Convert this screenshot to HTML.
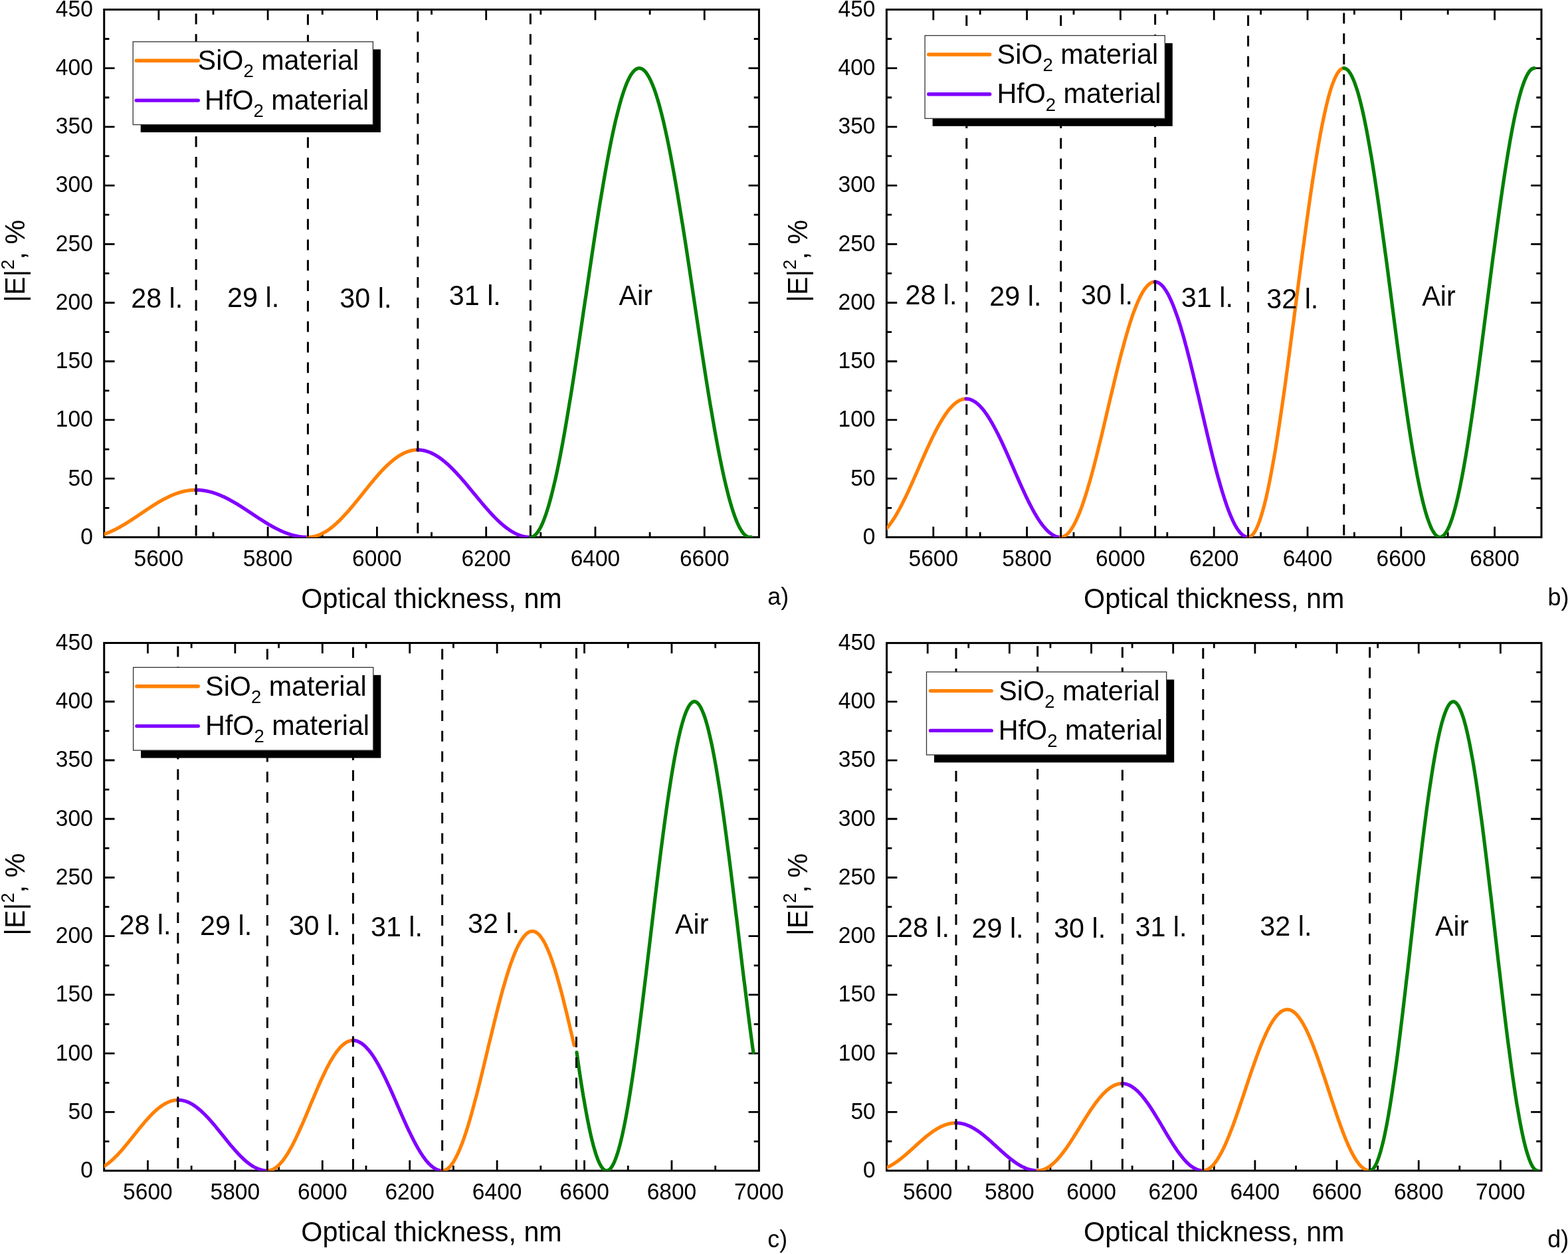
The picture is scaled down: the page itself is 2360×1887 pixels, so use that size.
<!DOCTYPE html>
<html><head><meta charset="utf-8"><title>|E|^2 distribution in multilayer</title>
<style>
html,body{margin:0;padding:0;background:#fff;}
body{width:2360px;height:1887px;overflow:hidden;}
svg{display:block;}
svg text{font-family:'Liberation Sans', Arial, sans-serif;fill:#000;}
</style></head>
<body>
<svg width="2360" height="1887" viewBox="0 0 2360 1887">
<rect width="2360" height="1887" fill="#fff"/>
<g id="plot-a">
<clipPath id="clip-a"><rect x="156.7" y="14.4" width="985.7" height="794"/></clipPath>
<path d="M238.84 808.4V792.6M238.84 14.4V30.2M320.98 808.4V800.7M320.98 14.4V22.1M403.12 808.4V792.6M403.12 14.4V30.2M485.27 808.4V800.7M485.27 14.4V22.1M567.41 808.4V792.6M567.41 14.4V30.2M649.55 808.4V800.7M649.55 14.4V22.1M731.69 808.4V792.6M731.69 14.4V30.2M813.83 808.4V800.7M813.83 14.4V22.1M895.97 808.4V792.6M895.97 14.4V30.2M978.12 808.4V800.7M978.12 14.4V22.1M1060.26 808.4V792.6M1060.26 14.4V30.2M156.7 764.29H164.4M1142.4 764.29H1134.7M156.7 720.18H172.5M1142.4 720.18H1126.6M156.7 676.07H164.4M1142.4 676.07H1134.7M156.7 631.96H172.5M1142.4 631.96H1126.6M156.7 587.84H164.4M1142.4 587.84H1134.7M156.7 543.73H172.5M1142.4 543.73H1126.6M156.7 499.62H164.4M1142.4 499.62H1134.7M156.7 455.51H172.5M1142.4 455.51H1126.6M156.7 411.4H164.4M1142.4 411.4H1134.7M156.7 367.29H172.5M1142.4 367.29H1126.6M156.7 323.18H164.4M1142.4 323.18H1134.7M156.7 279.07H172.5M1142.4 279.07H1126.6M156.7 234.96H164.4M1142.4 234.96H1134.7M156.7 190.84H172.5M1142.4 190.84H1126.6M156.7 146.73H164.4M1142.4 146.73H1134.7M156.7 102.62H172.5M1142.4 102.62H1126.6M156.7 58.51H164.4M1142.4 58.51H1134.7" stroke="#000" stroke-width="2.8" fill="none"/>
<rect x="156.7" y="14.4" width="985.7" height="794" fill="none" stroke="#000" stroke-width="3.0"/>
<g clip-path="url(#clip-a)" fill="none" stroke-width="5.2" stroke-linejoin="round" stroke-linecap="round">
<polyline stroke="#FF8000" points="156.7,803.8 157.7,803.4 158.7,803.1 159.7,802.7 160.7,802.4 161.7,802.0 162.7,801.6 163.7,801.2 164.7,800.8 165.7,800.3 166.7,799.9 167.7,799.5 168.7,799.0 169.7,798.5 170.7,798.1 171.7,797.6 172.7,797.1 173.7,796.6 174.7,796.1 175.7,795.6 176.7,795.1 177.7,794.5 178.7,794.0 179.7,793.4 180.7,792.9 181.7,792.3 182.7,791.7 183.7,791.2 184.7,790.6 185.7,790.0 186.7,789.4 187.7,788.8 188.7,788.2 189.7,787.6 190.7,787.0 191.7,786.3 192.7,785.7 193.7,785.1 194.7,784.4 195.7,783.8 196.7,783.2 197.7,782.5 198.7,781.9 199.7,781.2 200.7,780.5 201.7,779.9 202.7,779.2 203.7,778.5 204.7,777.9 205.7,777.2 206.7,776.5 207.7,775.9 208.7,775.2 209.7,774.5 210.7,773.8 211.7,773.2 212.7,772.5 213.7,771.8 214.7,771.1 215.7,770.4 216.7,769.8 217.7,769.1 218.7,768.4 219.7,767.8 220.7,767.1 221.7,766.4 222.7,765.8 223.7,765.1 224.7,764.4 225.7,763.8 226.7,763.1 227.7,762.5 228.7,761.8 229.7,761.2 230.7,760.6 231.7,759.9 232.7,759.3 233.7,758.7 234.7,758.1 235.7,757.4 236.7,756.8 237.7,756.2 238.7,755.6 239.7,755.1 240.7,754.5 241.7,753.9 242.7,753.3 243.8,752.8 244.8,752.2 245.8,751.7 246.8,751.1 247.8,750.6 248.8,750.1 249.8,749.6 250.8,749.0 251.8,748.5 252.8,748.1 253.8,747.6 254.8,747.1 255.8,746.6 256.8,746.2 257.8,745.7 258.8,745.3 259.8,744.9 260.8,744.5 261.8,744.1 262.8,743.7 263.8,743.3 264.8,742.9 265.8,742.6 266.8,742.2 267.8,741.9 268.8,741.6 269.8,741.2 270.8,740.9 271.8,740.6 272.8,740.4 273.8,740.1 274.8,739.8 275.8,739.6 276.8,739.4 277.8,739.1 278.8,738.9 279.8,738.7 280.8,738.5 281.8,738.4 282.8,738.2 283.8,738.1 284.8,737.9 285.8,737.8 286.8,737.7 287.8,737.6 288.8,737.5 289.8,737.5 290.8,737.4 291.8,737.4 292.8,737.3 293.8,737.3 294.8,737.3"/>
<polyline stroke="#8000FF" points="294.8,737.3 295.8,737.3 296.8,737.3 297.8,737.3 298.8,737.4 299.8,737.4 300.8,737.5 301.8,737.6 302.8,737.7 303.8,737.8 304.8,737.9 305.8,738.0 306.8,738.2 307.8,738.3 308.8,738.5 309.8,738.7 310.8,738.9 311.8,739.1 312.8,739.3 313.8,739.5 314.8,739.8 315.8,740.0 316.8,740.3 317.8,740.5 318.8,740.8 319.9,741.1 320.9,741.4 321.9,741.7 322.9,742.1 323.9,742.4 324.9,742.7 325.9,743.1 326.9,743.5 327.9,743.9 328.9,744.2 329.9,744.6 330.9,745.0 331.9,745.5 332.9,745.9 333.9,746.3 334.9,746.8 335.9,747.2 336.9,747.7 337.9,748.2 338.9,748.7 339.9,749.2 340.9,749.7 341.9,750.2 342.9,750.7 343.9,751.2 344.9,751.7 345.9,752.3 346.9,752.8 347.9,753.4 348.9,753.9 349.9,754.5 350.9,755.1 351.9,755.6 352.9,756.2 353.9,756.8 354.9,757.4 356.0,758.0 357.0,758.6 358.0,759.2 359.0,759.9 360.0,760.5 361.0,761.1 362.0,761.7 363.0,762.4 364.0,763.0 365.0,763.6 366.0,764.3 367.0,764.9 368.0,765.6 369.0,766.2 370.0,766.9 371.0,767.5 372.0,768.2 373.0,768.9 374.0,769.5 375.0,770.2 376.0,770.9 377.0,771.5 378.0,772.2 379.0,772.8 380.0,773.5 381.0,774.2 382.0,774.8 383.0,775.5 384.0,776.2 385.0,776.8 386.0,777.5 387.0,778.1 388.0,778.8 389.0,779.5 390.0,780.1 391.1,780.8 392.1,781.4 393.1,782.0 394.1,782.7 395.1,783.3 396.1,784.0 397.1,784.6 398.1,785.2 399.1,785.8 400.1,786.5 401.1,787.1 402.1,787.7 403.1,788.3 404.1,788.9 405.1,789.5 406.1,790.0 407.1,790.6 408.1,791.2 409.1,791.8 410.1,792.3 411.1,792.9 412.1,793.4 413.1,794.0 414.1,794.5 415.1,795.0 416.1,795.5 417.1,796.0 418.1,796.5 419.1,797.0 420.1,797.5 421.1,798.0 422.1,798.5 423.1,798.9 424.1,799.4 425.1,799.8 426.1,800.2 427.2,800.6 428.2,801.1 429.2,801.5 430.2,801.8 431.2,802.2 432.2,802.6 433.2,803.0 434.2,803.3 435.2,803.6 436.2,804.0 437.2,804.3 438.2,804.6 439.2,804.9 440.2,805.2 441.2,805.4 442.2,805.7 443.2,805.9 444.2,806.2 445.2,806.4 446.2,806.6 447.2,806.8 448.2,807.0 449.2,807.2 450.2,807.4 451.2,807.5 452.2,807.7 453.2,807.8 454.2,807.9 455.2,808.0 456.2,808.1 457.2,808.2 458.2,808.2 459.2,808.3 460.2,808.3 461.2,808.4 462.2,808.4 463.3,808.4"/>
<polyline stroke="#FF8000" points="463.3,808.4 464.3,808.4 465.3,808.4 466.3,808.3 467.3,808.2 468.3,808.1 469.3,808.0 470.3,807.8 471.3,807.6 472.3,807.4 473.3,807.2 474.3,807.0 475.3,806.7 476.3,806.4 477.3,806.1 478.3,805.7 479.3,805.4 480.3,805.0 481.3,804.6 482.3,804.1 483.3,803.7 484.3,803.2 485.3,802.7 486.3,802.2 487.3,801.7 488.3,801.1 489.3,800.5 490.3,799.9 491.3,799.3 492.3,798.6 493.3,798.0 494.3,797.3 495.3,796.6 496.3,795.8 497.3,795.1 498.3,794.3 499.3,793.6 500.3,792.8 501.3,791.9 502.3,791.1 503.3,790.2 504.3,789.4 505.3,788.5 506.3,787.6 507.3,786.7 508.3,785.7 509.3,784.8 510.3,783.8 511.3,782.8 512.3,781.8 513.3,780.8 514.3,779.8 515.3,778.7 516.3,777.7 517.3,776.6 518.3,775.5 519.3,774.4 520.3,773.3 521.3,772.2 522.3,771.1 523.4,770.0 524.4,768.8 525.4,767.7 526.4,766.5 527.4,765.3 528.4,764.2 529.4,763.0 530.4,761.8 531.4,760.6 532.4,759.4 533.4,758.2 534.4,757.0 535.4,755.7 536.4,754.5 537.4,753.3 538.4,752.0 539.4,750.8 540.4,749.5 541.4,748.3 542.4,747.1 543.4,745.8 544.4,744.6 545.4,743.3 546.4,742.0 547.4,740.8 548.4,739.5 549.4,738.3 550.4,737.0 551.4,735.8 552.4,734.6 553.4,733.3 554.4,732.1 555.4,730.9 556.4,729.6 557.4,728.4 558.4,727.2 559.4,726.0 560.4,724.8 561.4,723.6 562.4,722.4 563.4,721.2 564.4,720.0 565.4,718.8 566.4,717.7 567.4,716.5 568.4,715.4 569.4,714.2 570.4,713.1 571.4,712.0 572.4,710.9 573.4,709.8 574.4,708.7 575.4,707.7 576.4,706.6 577.4,705.6 578.4,704.5 579.4,703.5 580.4,702.5 581.4,701.6 582.4,700.6 583.4,699.6 584.4,698.7 585.5,697.8 586.5,696.9 587.5,696.0 588.5,695.1 589.5,694.3 590.5,693.4 591.5,692.6 592.5,691.8 593.5,691.0 594.5,690.2 595.5,689.5 596.5,688.8 597.5,688.1 598.5,687.4 599.5,686.7 600.5,686.1 601.5,685.4 602.5,684.8 603.5,684.3 604.5,683.7 605.5,683.2 606.5,682.6 607.5,682.1 608.5,681.7 609.5,681.2 610.5,680.8 611.5,680.4 612.5,680.0 613.5,679.6 614.5,679.3 615.5,679.0 616.5,678.7 617.5,678.4 618.5,678.1 619.5,677.9 620.5,677.7 621.5,677.5 622.5,677.4 623.5,677.2 624.5,677.1 625.5,677.1 626.5,677.0 627.5,677.0 628.5,676.9"/>
<polyline stroke="#8000FF" points="628.5,676.9 629.5,677.0 630.5,677.0 631.5,677.1 632.5,677.1 633.5,677.2 634.6,677.4 635.6,677.5 636.6,677.7 637.6,677.9 638.6,678.1 639.6,678.3 640.6,678.6 641.6,678.9 642.6,679.2 643.6,679.5 644.6,679.8 645.6,680.2 646.6,680.6 647.6,681.0 648.6,681.4 649.6,681.9 650.6,682.4 651.6,682.9 652.6,683.4 653.7,683.9 654.7,684.5 655.7,685.1 656.7,685.7 657.7,686.3 658.7,686.9 659.7,687.6 660.7,688.2 661.7,688.9 662.7,689.6 663.7,690.4 664.7,691.1 665.7,691.9 666.7,692.7 667.7,693.5 668.7,694.3 669.7,695.1 670.7,696.0 671.7,696.9 672.7,697.7 673.8,698.6 674.8,699.5 675.8,700.5 676.8,701.4 677.8,702.4 678.8,703.4 679.8,704.3 680.8,705.3 681.8,706.3 682.8,707.4 683.8,708.4 684.8,709.5 685.8,710.5 686.8,711.6 687.8,712.7 688.8,713.8 689.8,714.9 690.8,716.0 691.8,717.1 692.9,718.2 693.9,719.4 694.9,720.5 695.9,721.7 696.9,722.8 697.9,724.0 698.9,725.2 699.9,726.4 700.9,727.5 701.9,728.7 702.9,729.9 703.9,731.1 704.9,732.3 705.9,733.5 706.9,734.8 707.9,736.0 708.9,737.2 709.9,738.4 710.9,739.6 711.9,740.8 713.0,742.1 714.0,743.3 715.0,744.5 716.0,745.7 717.0,746.9 718.0,748.2 719.0,749.4 720.0,750.6 721.0,751.8 722.0,753.0 723.0,754.2 724.0,755.4 725.0,756.6 726.0,757.8 727.0,759.0 728.0,760.2 729.0,761.4 730.0,762.5 731.0,763.7 732.1,764.8 733.1,766.0 734.1,767.1 735.1,768.2 736.1,769.4 737.1,770.5 738.1,771.6 739.1,772.7 740.1,773.8 741.1,774.8 742.1,775.9 743.1,776.9 744.1,778.0 745.1,779.0 746.1,780.0 747.1,781.0 748.1,782.0 749.1,783.0 750.1,783.9 751.1,784.9 752.2,785.8 753.2,786.7 754.2,787.6 755.2,788.5 756.2,789.4 757.2,790.2 758.2,791.1 759.2,791.9 760.2,792.7 761.2,793.5 762.2,794.2 763.2,795.0 764.2,795.7 765.2,796.4 766.2,797.1 767.2,797.8 768.2,798.4 769.2,799.1 770.2,799.7 771.3,800.3 772.3,800.9 773.3,801.4 774.3,802.0 775.3,802.5 776.3,803.0 777.3,803.5 778.3,803.9 779.3,804.3 780.3,804.8 781.3,805.1 782.3,805.5 783.3,805.9 784.3,806.2 785.3,806.5 786.3,806.8 787.3,807.0 788.3,807.3 789.3,807.5 790.3,807.7 791.4,807.8 792.4,808.0 793.4,808.1 794.4,808.2 795.4,808.3 796.4,808.4 797.4,808.4 798.4,808.4"/>
<polyline stroke="#008000" points="798.4,808.4 799.4,808.3 800.4,808.1 801.4,807.8 802.4,807.4 803.4,806.8 804.4,806.0 805.4,805.2 806.4,804.2 807.4,803.1 808.4,801.9 809.4,800.5 810.4,799.0 811.4,797.4 812.5,795.6 813.5,793.8 814.5,791.8 815.5,789.6 816.5,787.4 817.5,785.0 818.5,782.5 819.5,779.9 820.5,777.1 821.5,774.3 822.5,771.3 823.5,768.2 824.5,765.0 825.5,761.7 826.5,758.2 827.5,754.7 828.5,751.0 829.5,747.3 830.5,743.4 831.5,739.4 832.5,735.3 833.5,731.1 834.5,726.8 835.6,722.4 836.6,717.9 837.6,713.3 838.6,708.6 839.6,703.8 840.6,699.0 841.6,694.0 842.6,688.9 843.6,683.8 844.6,678.6 845.6,673.2 846.6,667.9 847.6,662.4 848.6,656.8 849.6,651.2 850.6,645.5 851.6,639.8 852.6,633.9 853.6,628.0 854.6,622.0 855.6,616.0 856.6,609.9 857.6,603.8 858.7,597.6 859.7,591.3 860.7,585.0 861.7,578.7 862.7,572.3 863.7,565.9 864.7,559.4 865.7,552.9 866.7,546.3 867.7,539.7 868.7,533.1 869.7,526.4 870.7,519.8 871.7,513.1 872.7,506.3 873.7,499.6 874.7,492.8 875.7,486.1 876.7,479.3 877.7,472.5 878.7,465.7 879.7,458.9 880.7,452.1 881.8,445.3 882.8,438.5 883.8,431.7 884.8,424.9 885.8,418.2 886.8,411.4 887.8,404.7 888.8,398.0 889.8,391.3 890.8,384.6 891.8,377.9 892.8,371.3 893.8,364.7 894.8,358.2 895.8,351.7 896.8,345.2 897.8,338.7 898.8,332.3 899.8,326.0 900.8,319.7 901.8,313.4 902.8,307.2 903.8,301.1 904.9,295.0 905.9,289.0 906.9,283.0 907.9,277.1 908.9,271.3 909.9,265.5 910.9,259.8 911.9,254.2 912.9,248.6 913.9,243.2 914.9,237.8 915.9,232.5 916.9,227.2 917.9,222.1 918.9,217.0 919.9,212.1 920.9,207.2 921.9,202.4 922.9,197.7 923.9,193.1 924.9,188.6 925.9,184.2 926.9,179.9 928.0,175.7 929.0,171.6 930.0,167.6 931.0,163.8 932.0,160.0 933.0,156.3 934.0,152.8 935.0,149.3 936.0,146.0 937.0,142.8 938.0,139.7 939.0,136.7 940.0,133.9 941.0,131.1 942.0,128.5 943.0,126.0 944.0,123.6 945.0,121.4 946.0,119.3 947.0,117.3 948.0,115.4 949.0,113.6 950.0,112.0 951.1,110.5 952.1,109.2 953.1,107.9 954.1,106.8 955.1,105.8 956.1,105.0 957.1,104.3 958.1,103.7 959.1,103.2 960.1,102.9 961.1,102.7 962.1,102.6 963.1,102.7 964.1,102.9 965.1,103.2 966.1,103.6 967.1,104.2 968.1,104.9 969.1,105.7 970.1,106.7 971.1,107.7 972.1,108.9 973.1,110.2 974.1,111.7 975.1,113.3 976.1,114.9 977.1,116.8 978.1,118.7 979.1,120.7 980.1,122.9 981.1,125.2 982.1,127.6 983.1,130.1 984.2,132.8 985.2,135.5 986.2,138.4 987.2,141.4 988.2,144.5 989.2,147.7 990.2,151.0 991.2,154.5 992.2,158.0 993.2,161.7 994.2,165.4 995.2,169.3 996.2,173.2 997.2,177.3 998.2,181.4 999.2,185.7 1000.2,190.1 1001.2,194.5 1002.2,199.1 1003.2,203.7 1004.2,208.4 1005.2,213.2 1006.2,218.1 1007.2,223.1 1008.2,228.2 1009.2,233.3 1010.2,238.6 1011.2,243.9 1012.2,249.2 1013.2,254.7 1014.2,260.2 1015.2,265.8 1016.2,271.5 1017.2,277.2 1018.2,283.0 1019.2,288.9 1020.2,294.8 1021.2,300.8 1022.2,306.8 1023.2,312.9 1024.2,319.0 1025.2,325.2 1026.2,331.5 1027.3,337.7 1028.3,344.0 1029.3,350.4 1030.3,356.8 1031.3,363.2 1032.3,369.7 1033.3,376.2 1034.3,382.7 1035.3,389.3 1036.3,395.8 1037.3,402.4 1038.3,409.0 1039.3,415.7 1040.3,422.3 1041.3,429.0 1042.3,435.6 1043.3,442.3 1044.3,449.0 1045.3,455.7 1046.3,462.4 1047.3,469.0 1048.3,475.7 1049.3,482.4 1050.3,489.0 1051.3,495.7 1052.3,502.3 1053.3,508.9 1054.3,515.5 1055.3,522.1 1056.3,528.6 1057.3,535.1 1058.3,541.6 1059.3,548.1 1060.3,554.5 1061.3,560.9 1062.3,567.3 1063.3,573.6 1064.3,579.9 1065.3,586.1 1066.3,592.3 1067.3,598.4 1068.3,604.5 1069.3,610.5 1070.4,616.5 1071.4,622.4 1072.4,628.3 1073.4,634.1 1074.4,639.8 1075.4,645.5 1076.4,651.1 1077.4,656.6 1078.4,662.0 1079.4,667.4 1080.4,672.7 1081.4,677.9 1082.4,683.1 1083.4,688.2 1084.4,693.1 1085.4,698.0 1086.4,702.8 1087.4,707.6 1088.4,712.2 1089.4,716.7 1090.4,721.2 1091.4,725.5 1092.4,729.8 1093.4,733.9 1094.4,738.0 1095.4,741.9 1096.4,745.8 1097.4,749.5 1098.4,753.2 1099.4,756.7 1100.4,760.1 1101.4,763.5 1102.4,766.7 1103.4,769.8 1104.4,772.7 1105.4,775.6 1106.4,778.4 1107.4,781.0 1108.4,783.5 1109.4,785.9 1110.4,788.2 1111.4,790.4 1112.4,792.4 1113.4,794.4 1114.5,796.2 1115.5,797.8 1116.5,799.4 1117.5,800.8 1118.5,802.2 1119.5,803.3 1120.5,804.4 1121.5,805.3 1122.5,806.2 1123.5,806.9 1124.5,807.4 1125.5,807.8 1126.5,808.2 1127.5,808.3 1128.5,808.4 1129.5,808.3 1130.5,808.1"/>
</g>
<path d="M295.11 -10.4V808.4M463.42 -9.2V808.4M628.85 -14.2V808.4M798.39 -10.4V808.4" stroke="#000" stroke-width="3" stroke-dasharray="16 14.8" fill="none" clip-path="url(#clip-a)"/>
<rect x="211.7" y="74.3" width="361.2" height="124.8" fill="#000"/>
<rect x="200.2" y="62.8" width="361.2" height="124.8" fill="#fff" stroke="#333" stroke-width="1.3"/>
<path d="M205.1 91.3H298.3" stroke="#FF8000" stroke-width="5.4" stroke-linecap="round"/>
<path d="M205.1 151.1H298.3" stroke="#8000FF" stroke-width="5.4" stroke-linecap="round"/>
<text transform="translate(297.6 105.2) scale(1 1.02)" font-size="41.3">SiO<tspan font-size="27.5" dy="11">2</tspan><tspan dy="-11"> material</tspan></text>
<text transform="translate(308.1 164.7) scale(1 1.02)" font-size="41.3">HfO<tspan font-size="27.5" dy="11">2</tspan><tspan dy="-11"> material</tspan></text>
<text transform="translate(139.8 818.8) scale(1.01 1.03)" font-size="33.2" text-anchor="end">0</text>
<text transform="translate(139.8 730.58) scale(1.01 1.03)" font-size="33.2" text-anchor="end">50</text>
<text transform="translate(139.8 642.36) scale(1.01 1.03)" font-size="33.2" text-anchor="end">100</text>
<text transform="translate(139.8 554.13) scale(1.01 1.03)" font-size="33.2" text-anchor="end">150</text>
<text transform="translate(139.8 465.91) scale(1.01 1.03)" font-size="33.2" text-anchor="end">200</text>
<text transform="translate(139.8 377.69) scale(1.01 1.03)" font-size="33.2" text-anchor="end">250</text>
<text transform="translate(139.8 289.47) scale(1.01 1.03)" font-size="33.2" text-anchor="end">300</text>
<text transform="translate(139.8 201.24) scale(1.01 1.03)" font-size="33.2" text-anchor="end">350</text>
<text transform="translate(139.8 113.02) scale(1.01 1.03)" font-size="33.2" text-anchor="end">400</text>
<text transform="translate(139.8 24.8) scale(1.01 1.03)" font-size="33.2" text-anchor="end">450</text>
<text transform="translate(238.84 851.5) scale(1.01 1.03)" font-size="33.2" text-anchor="middle">5600</text>
<text transform="translate(403.12 851.5) scale(1.01 1.03)" font-size="33.2" text-anchor="middle">5800</text>
<text transform="translate(567.41 851.5) scale(1.01 1.03)" font-size="33.2" text-anchor="middle">6000</text>
<text transform="translate(731.69 851.5) scale(1.01 1.03)" font-size="33.2" text-anchor="middle">6200</text>
<text transform="translate(895.97 851.5) scale(1.01 1.03)" font-size="33.2" text-anchor="middle">6400</text>
<text transform="translate(1060.26 851.5) scale(1.01 1.03)" font-size="33.2" text-anchor="middle">6600</text>
<text transform="translate(649.55 914.5) scale(1 1.02)" font-size="41.3" text-anchor="middle">Optical thickness, nm</text>
<text transform="translate(37.3 454.7) rotate(-90) scale(1 1.02)" x="0" y="0" font-size="41.3">|E|<tspan font-size="27.5" dy="-16.4">2</tspan><tspan dy="16.4">, %</tspan></text>
<text transform="translate(197.22 462.6) scale(1 1.02)" font-size="41.3">28 l.</text>
<text transform="translate(342.12 461.8) scale(1 1.02)" font-size="41.3">29 l.</text>
<text transform="translate(511.33 462.6) scale(1 1.02)" font-size="41.3">30 l.</text>
<text transform="translate(675.73 458.7) scale(1 1.02)" font-size="41.3">31 l.</text>
<text transform="translate(931.52 458.7) scale(1 1.02)" font-size="41.3">Air</text>
<text transform="translate(1155.3 910.4) scale(0.95 1)" font-size="37.8">a)</text>
</g>
<g id="plot-b">
<clipPath id="clip-b"><rect x="1334.4" y="14.4" width="985.6" height="794"/></clipPath>
<path d="M1404.8 808.4V792.6M1404.8 14.4V30.2M1475.2 808.4V800.7M1475.2 14.4V22.1M1545.6 808.4V792.6M1545.6 14.4V30.2M1616 808.4V800.7M1616 14.4V22.1M1686.4 808.4V792.6M1686.4 14.4V30.2M1756.8 808.4V800.7M1756.8 14.4V22.1M1827.2 808.4V792.6M1827.2 14.4V30.2M1897.6 808.4V800.7M1897.6 14.4V22.1M1968 808.4V792.6M1968 14.4V30.2M2038.4 808.4V800.7M2038.4 14.4V22.1M2108.8 808.4V792.6M2108.8 14.4V30.2M2179.2 808.4V800.7M2179.2 14.4V22.1M2249.6 808.4V792.6M2249.6 14.4V30.2M1334.4 764.29H1342.1M2320 764.29H2312.3M1334.4 720.18H1350.2M2320 720.18H2304.2M1334.4 676.07H1342.1M2320 676.07H2312.3M1334.4 631.96H1350.2M2320 631.96H2304.2M1334.4 587.84H1342.1M2320 587.84H2312.3M1334.4 543.73H1350.2M2320 543.73H2304.2M1334.4 499.62H1342.1M2320 499.62H2312.3M1334.4 455.51H1350.2M2320 455.51H2304.2M1334.4 411.4H1342.1M2320 411.4H2312.3M1334.4 367.29H1350.2M2320 367.29H2304.2M1334.4 323.18H1342.1M2320 323.18H2312.3M1334.4 279.07H1350.2M2320 279.07H2304.2M1334.4 234.96H1342.1M2320 234.96H2312.3M1334.4 190.84H1350.2M2320 190.84H2304.2M1334.4 146.73H1342.1M2320 146.73H2312.3M1334.4 102.62H1350.2M2320 102.62H2304.2M1334.4 58.51H1342.1M2320 58.51H2312.3" stroke="#000" stroke-width="2.8" fill="none"/>
<rect x="1334.4" y="14.4" width="985.6" height="794" fill="none" stroke="#000" stroke-width="3.0"/>
<g clip-path="url(#clip-b)" fill="none" stroke-width="5.2" stroke-linejoin="round" stroke-linecap="round">
<polyline stroke="#FF8000" points="1334.4,795.1 1335.4,794.0 1336.4,792.8 1337.4,791.5 1338.4,790.3 1339.4,788.9 1340.4,787.6 1341.4,786.2 1342.4,784.7 1343.5,783.3 1344.5,781.7 1345.5,780.2 1346.5,778.6 1347.5,777.0 1348.5,775.3 1349.5,773.6 1350.5,771.9 1351.5,770.1 1352.5,768.3 1353.5,766.5 1354.5,764.6 1355.5,762.7 1356.5,760.8 1357.5,758.9 1358.5,756.9 1359.5,754.9 1360.5,752.9 1361.6,750.8 1362.6,748.7 1363.6,746.6 1364.6,744.5 1365.6,742.4 1366.6,740.3 1367.6,738.1 1368.6,735.9 1369.6,733.7 1370.6,731.5 1371.6,729.3 1372.6,727.0 1373.6,724.8 1374.6,722.5 1375.6,720.2 1376.6,718.0 1377.6,715.7 1378.7,713.4 1379.7,711.1 1380.7,708.8 1381.7,706.5 1382.7,704.2 1383.7,701.9 1384.7,699.6 1385.7,697.3 1386.7,695.0 1387.7,692.7 1388.7,690.4 1389.7,688.1 1390.7,685.9 1391.7,683.6 1392.7,681.4 1393.7,679.1 1394.7,676.9 1395.7,674.7 1396.8,672.5 1397.8,670.3 1398.8,668.1 1399.8,666.0 1400.8,663.8 1401.8,661.7 1402.8,659.6 1403.8,657.6 1404.8,655.5 1405.8,653.5 1406.8,651.5 1407.8,649.5 1408.8,647.6 1409.8,645.7 1410.8,643.8 1411.8,641.9 1412.8,640.1 1413.9,638.3 1414.9,636.6 1415.9,634.8 1416.9,633.1 1417.9,631.5 1418.9,629.8 1419.9,628.2 1420.9,626.7 1421.9,625.2 1422.9,623.7 1423.9,622.3 1424.9,620.9 1425.9,619.5 1426.9,618.2 1427.9,616.9 1428.9,615.7 1429.9,614.5 1430.9,613.4 1432.0,612.3 1433.0,611.2 1434.0,610.2 1435.0,609.2 1436.0,608.3 1437.0,607.5 1438.0,606.6 1439.0,605.9 1440.0,605.1 1441.0,604.5 1442.0,603.8 1443.0,603.3 1444.0,602.7 1445.0,602.2 1446.0,601.8 1447.0,601.4 1448.0,601.1 1449.1,600.8 1450.1,600.6 1451.1,600.4 1452.1,600.3 1453.1,600.2 1454.1,600.2"/>
<polyline stroke="#8000FF" points="1454.1,600.2 1455.1,600.2 1456.1,600.3 1457.1,600.4 1458.1,600.6 1459.1,600.8 1460.1,601.1 1461.1,601.4 1462.1,601.8 1463.1,602.3 1464.1,602.7 1465.1,603.3 1466.1,603.8 1467.1,604.5 1468.1,605.1 1469.1,605.9 1470.1,606.6 1471.1,607.5 1472.1,608.3 1473.1,609.3 1474.1,610.2 1475.1,611.2 1476.1,612.3 1477.1,613.4 1478.1,614.5 1479.1,615.7 1480.1,616.9 1481.1,618.2 1482.1,619.5 1483.1,620.9 1484.1,622.3 1485.1,623.7 1486.1,625.2 1487.1,626.7 1488.1,628.3 1489.1,629.9 1490.1,631.5 1491.1,633.2 1492.1,634.9 1493.1,636.6 1494.1,638.4 1495.1,640.2 1496.1,642.0 1497.1,643.9 1498.1,645.7 1499.1,647.7 1500.1,649.6 1501.1,651.6 1502.2,653.6 1503.2,655.6 1504.2,657.7 1505.2,659.7 1506.2,661.8 1507.2,663.9 1508.2,666.1 1509.2,668.2 1510.2,670.4 1511.2,672.6 1512.2,674.8 1513.2,677.0 1514.2,679.2 1515.2,681.5 1516.2,683.7 1517.2,686.0 1518.2,688.2 1519.2,690.5 1520.2,692.8 1521.2,695.1 1522.2,697.4 1523.2,699.7 1524.2,702.0 1525.2,704.3 1526.2,706.6 1527.2,708.9 1528.2,711.2 1529.2,713.5 1530.2,715.8 1531.2,718.1 1532.2,720.4 1533.2,722.6 1534.2,724.9 1535.2,727.1 1536.2,729.4 1537.2,731.6 1538.2,733.8 1539.2,736.0 1540.2,738.2 1541.2,740.4 1542.2,742.5 1543.2,744.7 1544.2,746.8 1545.2,748.9 1546.2,750.9 1547.2,753.0 1548.2,755.0 1549.2,757.0 1550.2,759.0 1551.2,760.9 1552.2,762.8 1553.2,764.7 1554.2,766.6 1555.2,768.4 1556.2,770.2 1557.2,772.0 1558.2,773.7 1559.2,775.4 1560.2,777.1 1561.2,778.7 1562.2,780.3 1563.2,781.9 1564.2,783.4 1565.2,784.9 1566.2,786.3 1567.2,787.7 1568.2,789.1 1569.2,790.4 1570.2,791.6 1571.3,792.9 1572.3,794.1 1573.3,795.2 1574.3,796.3 1575.3,797.4 1576.3,798.4 1577.3,799.3 1578.3,800.3 1579.3,801.1 1580.3,801.9 1581.3,802.7 1582.3,803.4 1583.3,804.1 1584.3,804.8 1585.3,805.3 1586.3,805.9 1587.3,806.3 1588.3,806.8 1589.3,807.2 1590.3,807.5 1591.3,807.8 1592.3,808.0 1593.3,808.2 1594.3,808.3 1595.3,808.4 1596.3,808.4"/>
<polyline stroke="#FF8000" points="1596.3,808.4 1597.3,808.4 1598.3,808.2 1599.3,808.0 1600.3,807.6 1601.3,807.2 1602.3,806.7 1603.3,806.1 1604.3,805.4 1605.3,804.5 1606.3,803.7 1607.4,802.7 1608.4,801.6 1609.4,800.4 1610.4,799.1 1611.4,797.8 1612.4,796.3 1613.4,794.8 1614.4,793.2 1615.4,791.4 1616.4,789.6 1617.4,787.7 1618.4,785.8 1619.4,783.7 1620.4,781.6 1621.4,779.4 1622.4,777.1 1623.5,774.7 1624.5,772.2 1625.5,769.7 1626.5,767.0 1627.5,764.4 1628.5,761.6 1629.5,758.8 1630.5,755.9 1631.5,752.9 1632.5,749.8 1633.5,746.7 1634.5,743.5 1635.5,740.3 1636.5,737.0 1637.5,733.6 1638.5,730.2 1639.5,726.8 1640.6,723.2 1641.6,719.6 1642.6,716.0 1643.6,712.3 1644.6,708.6 1645.6,704.8 1646.6,701.0 1647.6,697.1 1648.6,693.2 1649.6,689.3 1650.6,685.3 1651.6,681.3 1652.6,677.3 1653.6,673.2 1654.6,669.1 1655.6,664.9 1656.7,660.8 1657.7,656.6 1658.7,652.4 1659.7,648.2 1660.7,644.0 1661.7,639.7 1662.7,635.5 1663.7,631.2 1664.7,626.9 1665.7,622.7 1666.7,618.4 1667.7,614.1 1668.7,609.8 1669.7,605.6 1670.7,601.3 1671.7,597.0 1672.7,592.8 1673.8,588.5 1674.8,584.3 1675.8,580.1 1676.8,575.9 1677.8,571.7 1678.8,567.6 1679.8,563.4 1680.8,559.3 1681.8,555.2 1682.8,551.2 1683.8,547.2 1684.8,543.2 1685.8,539.3 1686.8,535.4 1687.8,531.5 1688.8,527.7 1689.9,523.9 1690.9,520.2 1691.9,516.5 1692.9,512.9 1693.9,509.3 1694.9,505.7 1695.9,502.3 1696.9,498.9 1697.9,495.5 1698.9,492.2 1699.9,489.0 1700.9,485.8 1701.9,482.7 1702.9,479.6 1703.9,476.7 1704.9,473.7 1705.9,470.9 1707.0,468.1 1708.0,465.5 1709.0,462.8 1710.0,460.3 1711.0,457.8 1712.0,455.5 1713.0,453.2 1714.0,450.9 1715.0,448.8 1716.0,446.7 1717.0,444.8 1718.0,442.9 1719.0,441.1 1720.0,439.4 1721.0,437.7 1722.0,436.2 1723.1,434.7 1724.1,433.4 1725.1,432.1 1726.1,430.9 1727.1,429.8 1728.1,428.9 1729.1,428.0 1730.1,427.1 1731.1,426.4 1732.1,425.8 1733.1,425.3 1734.1,424.9 1735.1,424.5 1736.1,424.3 1737.1,424.2 1738.1,424.1"/>
<polyline stroke="#8000FF" points="1738.1,424.1 1739.1,424.2 1740.2,424.3 1741.2,424.5 1742.2,424.9 1743.2,425.3 1744.2,425.8 1745.2,426.5 1746.2,427.2 1747.2,428.0 1748.2,428.9 1749.2,429.9 1750.2,431.0 1751.2,432.2 1752.2,433.5 1753.2,434.9 1754.2,436.4 1755.2,437.9 1756.2,439.6 1757.2,441.3 1758.2,443.1 1759.2,445.0 1760.2,447.0 1761.2,449.1 1762.2,451.3 1763.2,453.6 1764.2,455.9 1765.2,458.3 1766.2,460.8 1767.2,463.4 1768.2,466.0 1769.2,468.8 1770.2,471.6 1771.2,474.4 1772.3,477.4 1773.3,480.4 1774.3,483.5 1775.3,486.6 1776.3,489.8 1777.3,493.1 1778.3,496.4 1779.3,499.9 1780.3,503.3 1781.3,506.8 1782.3,510.4 1783.3,514.0 1784.3,517.7 1785.3,521.4 1786.3,525.2 1787.3,529.0 1788.3,532.9 1789.3,536.8 1790.3,540.7 1791.3,544.7 1792.3,548.7 1793.3,552.8 1794.3,556.9 1795.3,561.0 1796.3,565.1 1797.3,569.3 1798.3,573.5 1799.3,577.7 1800.3,581.9 1801.3,586.2 1802.3,590.5 1803.4,594.7 1804.4,599.0 1805.4,603.3 1806.4,607.6 1807.4,611.9 1808.4,616.3 1809.4,620.6 1810.4,624.9 1811.4,629.2 1812.4,633.5 1813.4,637.8 1814.4,642.0 1815.4,646.3 1816.4,650.6 1817.4,654.8 1818.4,659.0 1819.4,663.2 1820.4,667.4 1821.4,671.5 1822.4,675.6 1823.4,679.7 1824.4,683.8 1825.4,687.8 1826.4,691.8 1827.4,695.7 1828.4,699.6 1829.4,703.5 1830.4,707.3 1831.4,711.1 1832.4,714.8 1833.4,718.5 1834.5,722.1 1835.5,725.7 1836.5,729.2 1837.5,732.7 1838.5,736.1 1839.5,739.4 1840.5,742.7 1841.5,745.9 1842.5,749.0 1843.5,752.1 1844.5,755.1 1845.5,758.1 1846.5,761.0 1847.5,763.8 1848.5,766.5 1849.5,769.1 1850.5,771.7 1851.5,774.2 1852.5,776.6 1853.5,778.9 1854.5,781.2 1855.5,783.4 1856.5,785.5 1857.5,787.5 1858.5,789.4 1859.5,791.2 1860.5,792.9 1861.5,794.6 1862.5,796.1 1863.5,797.6 1864.5,799.0 1865.6,800.3 1866.6,801.5 1867.6,802.6 1868.6,803.6 1869.6,804.5 1870.6,805.3 1871.6,806.0 1872.6,806.7 1873.6,807.2 1874.6,807.6 1875.6,808.0 1876.6,808.2 1877.6,808.4 1878.6,808.4"/>
<polyline stroke="#FF8000" points="1878.6,808.4 1879.6,808.3 1880.6,808.1 1881.6,807.6 1882.6,807.0 1883.6,806.3 1884.6,805.3 1885.6,804.2 1886.6,803.0 1887.7,801.5 1888.7,799.9 1889.7,798.1 1890.7,796.2 1891.7,794.1 1892.7,791.8 1893.7,789.4 1894.7,786.8 1895.7,784.1 1896.7,781.2 1897.7,778.1 1898.7,774.9 1899.7,771.5 1900.7,768.0 1901.7,764.3 1902.8,760.5 1903.8,756.5 1904.8,752.4 1905.8,748.1 1906.8,743.7 1907.8,739.2 1908.8,734.5 1909.8,729.7 1910.8,724.7 1911.8,719.7 1912.8,714.4 1913.8,709.1 1914.8,703.7 1915.8,698.1 1916.8,692.4 1917.9,686.6 1918.9,680.7 1919.9,674.7 1920.9,668.5 1921.9,662.3 1922.9,656.0 1923.9,649.5 1924.9,643.0 1925.9,636.4 1926.9,629.7 1927.9,622.9 1928.9,616.1 1929.9,609.1 1930.9,602.1 1932.0,595.0 1933.0,587.9 1934.0,580.6 1935.0,573.4 1936.0,566.0 1937.0,558.6 1938.0,551.2 1939.0,543.7 1940.0,536.2 1941.0,528.6 1942.0,521.0 1943.0,513.4 1944.0,505.7 1945.0,498.0 1946.0,490.3 1947.1,482.6 1948.1,474.9 1949.1,467.1 1950.1,459.4 1951.1,451.6 1952.1,443.9 1953.1,436.1 1954.1,428.4 1955.1,420.7 1956.1,413.0 1957.1,405.3 1958.1,397.6 1959.1,390.0 1960.1,382.4 1961.1,374.8 1962.2,367.3 1963.2,359.8 1964.2,352.4 1965.2,345.0 1966.2,337.7 1967.2,330.4 1968.2,323.2 1969.2,316.0 1970.2,308.9 1971.2,301.9 1972.2,295.0 1973.2,288.1 1974.2,281.3 1975.2,274.6 1976.2,268.0 1977.3,261.5 1978.3,255.0 1979.3,248.7 1980.3,242.5 1981.3,236.4 1982.3,230.3 1983.3,224.4 1984.3,218.6 1985.3,212.9 1986.3,207.4 1987.3,201.9 1988.3,196.6 1989.3,191.4 1990.3,186.3 1991.4,181.3 1992.4,176.5 1993.4,171.9 1994.4,167.3 1995.4,162.9 1996.4,158.6 1997.4,154.5 1998.4,150.5 1999.4,146.7 2000.4,143.0 2001.4,139.5 2002.4,136.1 2003.4,132.9 2004.4,129.9 2005.4,126.9 2006.5,124.2 2007.5,121.6 2008.5,119.2 2009.5,116.9 2010.5,114.8 2011.5,112.9 2012.5,111.1 2013.5,109.5 2014.5,108.1 2015.5,106.8 2016.5,105.7 2017.5,104.7 2018.5,104.0 2019.5,103.4 2020.5,103.0 2021.6,102.7 2022.6,102.6"/>
<polyline stroke="#008000" points="2022.6,102.6 2023.6,102.7 2024.6,103.0 2025.6,103.4 2026.6,104.0 2027.6,104.7 2028.6,105.6 2029.6,106.7 2030.6,108.0 2031.6,109.4 2032.6,111.0 2033.6,112.7 2034.6,114.6 2035.6,116.7 2036.6,119.0 2037.6,121.3 2038.6,123.9 2039.6,126.6 2040.6,129.5 2041.6,132.5 2042.7,135.7 2043.7,139.0 2044.7,142.5 2045.7,146.1 2046.7,149.9 2047.7,153.8 2048.7,157.9 2049.7,162.1 2050.7,166.4 2051.7,170.9 2052.7,175.5 2053.7,180.3 2054.7,185.2 2055.7,190.2 2056.7,195.3 2057.7,200.6 2058.7,206.0 2059.7,211.5 2060.7,217.1 2061.7,222.8 2062.7,228.7 2063.8,234.6 2064.8,240.7 2065.8,246.8 2066.8,253.1 2067.8,259.5 2068.8,265.9 2069.8,272.4 2070.8,279.1 2071.8,285.8 2072.8,292.6 2073.8,299.4 2074.8,306.4 2075.8,313.4 2076.8,320.5 2077.8,327.6 2078.8,334.8 2079.8,342.1 2080.8,349.4 2081.8,356.8 2082.8,364.2 2083.8,371.6 2084.8,379.1 2085.9,386.7 2086.9,394.2 2087.9,401.8 2088.9,409.4 2089.9,417.1 2090.9,424.8 2091.9,432.4 2092.9,440.1 2093.9,447.8 2094.9,455.5 2095.9,463.2 2096.9,470.9 2097.9,478.6 2098.9,486.3 2099.9,493.9 2100.9,501.6 2101.9,509.2 2102.9,516.8 2103.9,524.4 2104.9,531.9 2105.9,539.4 2107.0,546.8 2108.0,554.3 2109.0,561.6 2110.0,568.9 2111.0,576.2 2112.0,583.4 2113.0,590.6 2114.0,597.6 2115.0,604.6 2116.0,611.6 2117.0,618.5 2118.0,625.2 2119.0,632.0 2120.0,638.6 2121.0,645.1 2122.0,651.6 2123.0,657.9 2124.0,664.2 2125.0,670.3 2126.0,676.4 2127.0,682.3 2128.1,688.2 2129.1,693.9 2130.1,699.5 2131.1,705.0 2132.1,710.4 2133.1,715.7 2134.1,720.8 2135.1,725.8 2136.1,730.7 2137.1,735.5 2138.1,740.1 2139.1,744.6 2140.1,748.9 2141.1,753.1 2142.1,757.2 2143.1,761.1 2144.1,764.9 2145.1,768.5 2146.1,772.0 2147.1,775.3 2148.1,778.5 2149.1,781.5 2150.2,784.4 2151.2,787.1 2152.2,789.7 2153.2,792.1 2154.2,794.3 2155.2,796.4 2156.2,798.3 2157.2,800.0 2158.2,801.6 2159.2,803.0 2160.2,804.3 2161.2,805.4 2162.2,806.3 2163.2,807.1 2164.2,807.6 2165.2,808.1 2166.2,808.3 2167.2,808.4 2168.2,808.3 2169.2,808.1 2170.2,807.6 2171.2,807.0 2172.2,806.2 2173.2,805.3 2174.2,804.2 2175.2,802.9 2176.2,801.4 2177.2,799.8 2178.2,798.0 2179.2,796.0 2180.3,793.9 2181.3,791.6 2182.3,789.1 2183.3,786.5 2184.3,783.7 2185.3,780.8 2186.3,777.7 2187.3,774.4 2188.3,771.0 2189.3,767.4 2190.3,763.7 2191.3,759.8 2192.3,755.8 2193.3,751.6 2194.3,747.3 2195.3,742.8 2196.3,738.2 2197.3,733.5 2198.3,728.6 2199.3,723.6 2200.3,718.5 2201.3,713.2 2202.3,707.8 2203.3,702.3 2204.3,696.6 2205.3,690.9 2206.3,685.0 2207.3,679.0 2208.3,672.9 2209.3,666.7 2210.3,660.4 2211.3,654.0 2212.3,647.5 2213.3,640.9 2214.3,634.2 2215.3,627.4 2216.3,620.6 2217.3,613.6 2218.3,606.6 2219.3,599.5 2220.3,592.4 2221.3,585.1 2222.3,577.8 2223.3,570.5 2224.3,563.1 2225.3,555.6 2226.3,548.1 2227.3,540.5 2228.3,532.9 2229.3,525.3 2230.3,517.6 2231.3,509.9 2232.3,502.2 2233.3,494.5 2234.3,486.7 2235.3,478.9 2236.3,471.1 2237.3,463.3 2238.3,455.5 2239.3,447.7 2240.3,439.9 2241.3,432.1 2242.3,424.3 2243.3,416.6 2244.3,408.8 2245.3,401.1 2246.3,393.4 2247.3,385.7 2248.4,378.1 2249.4,370.5 2250.4,362.9 2251.4,355.4 2252.4,347.9 2253.4,340.5 2254.4,333.2 2255.4,325.9 2256.4,318.7 2257.4,311.5 2258.4,304.4 2259.4,297.4 2260.4,290.5 2261.4,283.6 2262.4,276.8 2263.4,270.1 2264.4,263.5 2265.4,257.0 2266.4,250.6 2267.4,244.3 2268.4,238.1 2269.4,232.0 2270.4,226.0 2271.4,220.2 2272.4,214.4 2273.4,208.8 2274.4,203.2 2275.4,197.8 2276.4,192.6 2277.4,187.4 2278.4,182.4 2279.4,177.5 2280.4,172.8 2281.4,168.2 2282.4,163.7 2283.4,159.4 2284.4,155.2 2285.4,151.2 2286.4,147.3 2287.4,143.6 2288.4,140.0 2289.4,136.6 2290.4,133.3 2291.4,130.2 2292.4,127.3 2293.4,124.5 2294.4,121.9 2295.4,119.4 2296.4,117.1 2297.4,115.0 2298.4,113.0 2299.4,111.2 2300.4,109.6 2301.4,108.1 2302.4,106.8 2303.4,105.7 2304.4,104.8 2305.4,104.0 2306.4,103.4 2307.4,103.0 2308.4,102.7 2309.4,102.6"/>
</g>
<path d="M1454.78 -7.8V808.4M1596.71 -7.8V808.4M1738.64 -9.5V808.4M1878.59 -7.8V808.4M2022.77 -11.4V808.4" stroke="#000" stroke-width="3" stroke-dasharray="16 14.8" fill="none" clip-path="url(#clip-b)"/>
<rect x="1403.6" y="65" width="361.2" height="124.8" fill="#000"/>
<rect x="1392.1" y="53.5" width="361.2" height="124.8" fill="#fff" stroke="#333" stroke-width="1.3"/>
<path d="M1397.7 82H1489.7" stroke="#FF8000" stroke-width="5.4" stroke-linecap="round"/>
<path d="M1397.7 141.8H1489.7" stroke="#8000FF" stroke-width="5.4" stroke-linecap="round"/>
<text transform="translate(1500.6 95.9) scale(1 1.02)" font-size="41.3">SiO<tspan font-size="27.5" dy="11">2</tspan><tspan dy="-11"> material</tspan></text>
<text transform="translate(1500.4 155.4) scale(1 1.02)" font-size="41.3">HfO<tspan font-size="27.5" dy="11">2</tspan><tspan dy="-11"> material</tspan></text>
<text transform="translate(1317.5 818.8) scale(1.01 1.03)" font-size="33.2" text-anchor="end">0</text>
<text transform="translate(1317.5 730.58) scale(1.01 1.03)" font-size="33.2" text-anchor="end">50</text>
<text transform="translate(1317.5 642.36) scale(1.01 1.03)" font-size="33.2" text-anchor="end">100</text>
<text transform="translate(1317.5 554.13) scale(1.01 1.03)" font-size="33.2" text-anchor="end">150</text>
<text transform="translate(1317.5 465.91) scale(1.01 1.03)" font-size="33.2" text-anchor="end">200</text>
<text transform="translate(1317.5 377.69) scale(1.01 1.03)" font-size="33.2" text-anchor="end">250</text>
<text transform="translate(1317.5 289.47) scale(1.01 1.03)" font-size="33.2" text-anchor="end">300</text>
<text transform="translate(1317.5 201.24) scale(1.01 1.03)" font-size="33.2" text-anchor="end">350</text>
<text transform="translate(1317.5 113.02) scale(1.01 1.03)" font-size="33.2" text-anchor="end">400</text>
<text transform="translate(1317.5 24.8) scale(1.01 1.03)" font-size="33.2" text-anchor="end">450</text>
<text transform="translate(1404.8 851.5) scale(1.01 1.03)" font-size="33.2" text-anchor="middle">5600</text>
<text transform="translate(1545.6 851.5) scale(1.01 1.03)" font-size="33.2" text-anchor="middle">5800</text>
<text transform="translate(1686.4 851.5) scale(1.01 1.03)" font-size="33.2" text-anchor="middle">6000</text>
<text transform="translate(1827.2 851.5) scale(1.01 1.03)" font-size="33.2" text-anchor="middle">6200</text>
<text transform="translate(1968 851.5) scale(1.01 1.03)" font-size="33.2" text-anchor="middle">6400</text>
<text transform="translate(2108.8 851.5) scale(1.01 1.03)" font-size="33.2" text-anchor="middle">6600</text>
<text transform="translate(2249.6 851.5) scale(1.01 1.03)" font-size="33.2" text-anchor="middle">6800</text>
<text transform="translate(1827.2 914.5) scale(1 1.02)" font-size="41.3" text-anchor="middle">Optical thickness, nm</text>
<text transform="translate(1215 454.7) rotate(-90) scale(1 1.02)" x="0" y="0" font-size="41.3">|E|<tspan font-size="27.5" dy="-16.4">2</tspan><tspan dy="16.4">, %</tspan></text>
<text transform="translate(1362.42 458.2) scale(1 1.02)" font-size="41.3">28 l.</text>
<text transform="translate(1489.32 459.8) scale(1 1.02)" font-size="41.3">29 l.</text>
<text transform="translate(1627.03 458.2) scale(1 1.02)" font-size="41.3">30 l.</text>
<text transform="translate(1777.83 461.8) scale(1 1.02)" font-size="41.3">31 l.</text>
<text transform="translate(1906.23 463.8) scale(1 1.02)" font-size="41.3">32 l.</text>
<text transform="translate(2140.32 459.8) scale(1 1.02)" font-size="41.3">Air</text>
<text transform="translate(2329.6 910.5) scale(0.95 1)" font-size="37.8">b)</text>
</g>
<g id="plot-c">
<clipPath id="clip-c"><rect x="156.7" y="967.5" width="985.7" height="794.2"/></clipPath>
<path d="M222.41 1761.7V1745.9M222.41 967.5V983.3M288.13 1761.7V1754M288.13 967.5V975.2M353.84 1761.7V1745.9M353.84 967.5V983.3M419.55 1761.7V1754M419.55 967.5V975.2M485.27 1761.7V1745.9M485.27 967.5V983.3M550.98 1761.7V1754M550.98 967.5V975.2M616.69 1761.7V1745.9M616.69 967.5V983.3M682.41 1761.7V1754M682.41 967.5V975.2M748.12 1761.7V1745.9M748.12 967.5V983.3M813.83 1761.7V1754M813.83 967.5V975.2M879.55 1761.7V1745.9M879.55 967.5V983.3M945.26 1761.7V1754M945.26 967.5V975.2M1010.97 1761.7V1745.9M1010.97 967.5V983.3M1076.69 1761.7V1754M1076.69 967.5V975.2M156.7 1717.58H164.4M1142.4 1717.58H1134.7M156.7 1673.46H172.5M1142.4 1673.46H1126.6M156.7 1629.33H164.4M1142.4 1629.33H1134.7M156.7 1585.21H172.5M1142.4 1585.21H1126.6M156.7 1541.09H164.4M1142.4 1541.09H1134.7M156.7 1496.97H172.5M1142.4 1496.97H1126.6M156.7 1452.84H164.4M1142.4 1452.84H1134.7M156.7 1408.72H172.5M1142.4 1408.72H1126.6M156.7 1364.6H164.4M1142.4 1364.6H1134.7M156.7 1320.48H172.5M1142.4 1320.48H1126.6M156.7 1276.36H164.4M1142.4 1276.36H1134.7M156.7 1232.23H172.5M1142.4 1232.23H1126.6M156.7 1188.11H164.4M1142.4 1188.11H1134.7M156.7 1143.99H172.5M1142.4 1143.99H1126.6M156.7 1099.87H164.4M1142.4 1099.87H1134.7M156.7 1055.74H172.5M1142.4 1055.74H1126.6M156.7 1011.62H164.4M1142.4 1011.62H1134.7" stroke="#000" stroke-width="2.8" fill="none"/>
<rect x="156.7" y="967.5" width="985.7" height="794.2" fill="none" stroke="#000" stroke-width="3.0"/>
<g clip-path="url(#clip-c)" fill="none" stroke-width="5.2" stroke-linejoin="round" stroke-linecap="round">
<polyline stroke="#FF8000" points="156.7,1754.9 157.7,1754.2 158.7,1753.6 159.7,1752.9 160.7,1752.2 161.7,1751.5 162.7,1750.7 163.7,1749.9 164.7,1749.1 165.7,1748.3 166.7,1747.5 167.7,1746.6 168.7,1745.7 169.7,1744.8 170.7,1743.9 171.7,1742.9 172.7,1741.9 173.7,1740.9 174.8,1739.9 175.8,1738.9 176.8,1737.9 177.8,1736.8 178.8,1735.7 179.8,1734.6 180.8,1733.5 181.8,1732.4 182.8,1731.3 183.8,1730.1 184.8,1729.0 185.8,1727.8 186.8,1726.6 187.8,1725.4 188.8,1724.2 189.8,1723.0 190.8,1721.8 191.8,1720.6 192.8,1719.4 193.8,1718.1 194.8,1716.9 195.8,1715.6 196.8,1714.4 197.8,1713.1 198.8,1711.9 199.8,1710.6 200.8,1709.4 201.8,1708.1 202.8,1706.8 203.8,1705.6 204.8,1704.3 205.8,1703.1 206.8,1701.8 207.8,1700.6 208.8,1699.3 209.9,1698.1 210.9,1696.8 211.9,1695.6 212.9,1694.4 213.9,1693.2 214.9,1692.0 215.9,1690.8 216.9,1689.6 217.9,1688.4 218.9,1687.3 219.9,1686.1 220.9,1685.0 221.9,1683.9 222.9,1682.8 223.9,1681.7 224.9,1680.6 225.9,1679.5 226.9,1678.5 227.9,1677.4 228.9,1676.4 229.9,1675.4 230.9,1674.4 231.9,1673.5 232.9,1672.5 233.9,1671.6 234.9,1670.7 235.9,1669.8 236.9,1669.0 237.9,1668.2 238.9,1667.3 239.9,1666.6 240.9,1665.8 241.9,1665.1 242.9,1664.3 243.9,1663.6 245.0,1663.0 246.0,1662.3 247.0,1661.7 248.0,1661.1 249.0,1660.6 250.0,1660.0 251.0,1659.5 252.0,1659.1 253.0,1658.6 254.0,1658.2 255.0,1657.8 256.0,1657.4 257.0,1657.1 258.0,1656.8 259.0,1656.5 260.0,1656.2 261.0,1656.0 262.0,1655.8 263.0,1655.6 264.0,1655.5 265.0,1655.4 266.0,1655.3 267.0,1655.3 268.0,1655.3"/>
<polyline stroke="#8000FF" points="268.0,1655.3 269.0,1655.3 270.0,1655.3 271.0,1655.4 272.0,1655.5 273.0,1655.6 274.0,1655.8 275.0,1656.0 276.0,1656.2 277.0,1656.5 278.0,1656.7 279.0,1657.0 280.1,1657.4 281.1,1657.7 282.1,1658.1 283.1,1658.5 284.1,1659.0 285.1,1659.4 286.1,1659.9 287.1,1660.5 288.1,1661.0 289.1,1661.6 290.1,1662.2 291.1,1662.8 292.1,1663.5 293.1,1664.2 294.1,1664.9 295.1,1665.6 296.1,1666.3 297.1,1667.1 298.1,1667.9 299.1,1668.7 300.1,1669.6 301.1,1670.4 302.1,1671.3 303.1,1672.2 304.1,1673.1 305.1,1674.1 306.1,1675.0 307.1,1676.0 308.1,1677.0 309.1,1678.0 310.1,1679.1 311.1,1680.1 312.1,1681.2 313.1,1682.2 314.2,1683.3 315.2,1684.4 316.2,1685.6 317.2,1686.7 318.2,1687.8 319.2,1689.0 320.2,1690.2 321.2,1691.3 322.2,1692.5 323.2,1693.7 324.2,1694.9 325.2,1696.1 326.2,1697.3 327.2,1698.6 328.2,1699.8 329.2,1701.0 330.2,1702.3 331.2,1703.5 332.2,1704.7 333.2,1706.0 334.2,1707.2 335.2,1708.5 336.2,1709.7 337.2,1711.0 338.2,1712.2 339.2,1713.5 340.2,1714.7 341.2,1715.9 342.2,1717.2 343.2,1718.4 344.2,1719.6 345.2,1720.8 346.2,1722.1 347.2,1723.3 348.2,1724.5 349.3,1725.6 350.3,1726.8 351.3,1728.0 352.3,1729.1 353.3,1730.3 354.3,1731.4 355.3,1732.5 356.3,1733.6 357.3,1734.7 358.3,1735.8 359.3,1736.9 360.3,1737.9 361.3,1739.0 362.3,1740.0 363.3,1741.0 364.3,1741.9 365.3,1742.9 366.3,1743.8 367.3,1744.8 368.3,1745.7 369.3,1746.6 370.3,1747.4 371.3,1748.3 372.3,1749.1 373.3,1749.9 374.3,1750.6 375.3,1751.4 376.3,1752.1 377.3,1752.8 378.3,1753.5 379.3,1754.1 380.3,1754.8 381.3,1755.4 382.3,1756.0 383.3,1756.5 384.4,1757.0 385.4,1757.5 386.4,1758.0 387.4,1758.4 388.4,1758.9 389.4,1759.2 390.4,1759.6 391.4,1759.9 392.4,1760.2 393.4,1760.5 394.4,1760.8 395.4,1761.0 396.4,1761.2 397.4,1761.3 398.4,1761.5 399.4,1761.6 400.4,1761.6 401.4,1761.7 402.4,1761.7"/>
<polyline stroke="#FF8000" points="402.4,1761.7 403.4,1761.7 404.4,1761.6 405.4,1761.4 406.4,1761.2 407.4,1761.0 408.4,1760.6 409.4,1760.3 410.5,1759.8 411.5,1759.3 412.5,1758.8 413.5,1758.1 414.5,1757.5 415.5,1756.8 416.5,1756.0 417.5,1755.1 418.5,1754.2 419.5,1753.3 420.5,1752.3 421.5,1751.2 422.5,1750.1 423.5,1749.0 424.6,1747.8 425.6,1746.5 426.6,1745.2 427.6,1743.8 428.6,1742.4 429.6,1740.9 430.6,1739.4 431.6,1737.9 432.6,1736.3 433.6,1734.7 434.6,1733.0 435.6,1731.3 436.6,1729.5 437.6,1727.7 438.6,1725.9 439.7,1724.0 440.7,1722.1 441.7,1720.1 442.7,1718.1 443.7,1716.1 444.7,1714.1 445.7,1712.0 446.7,1709.9 447.7,1707.7 448.7,1705.6 449.7,1703.4 450.7,1701.2 451.7,1698.9 452.7,1696.7 453.7,1694.4 454.8,1692.1 455.8,1689.8 456.8,1687.5 457.8,1685.1 458.8,1682.8 459.8,1680.4 460.8,1678.0 461.8,1675.7 462.8,1673.3 463.8,1670.9 464.8,1668.5 465.8,1666.1 466.8,1663.7 467.8,1661.3 468.8,1658.8 469.9,1656.4 470.9,1654.1 471.9,1651.7 472.9,1649.3 473.9,1646.9 474.9,1644.5 475.9,1642.2 476.9,1639.8 477.9,1637.5 478.9,1635.2 479.9,1632.9 480.9,1630.6 481.9,1628.4 482.9,1626.1 483.9,1623.9 485.0,1621.7 486.0,1619.6 487.0,1617.4 488.0,1615.3 489.0,1613.3 490.0,1611.2 491.0,1609.2 492.0,1607.2 493.0,1605.3 494.0,1603.3 495.0,1601.5 496.0,1599.6 497.0,1597.8 498.0,1596.1 499.1,1594.3 500.1,1592.7 501.1,1591.0 502.1,1589.4 503.1,1587.9 504.1,1586.4 505.1,1584.9 506.1,1583.5 507.1,1582.1 508.1,1580.8 509.1,1579.6 510.1,1578.4 511.1,1577.2 512.1,1576.1 513.1,1575.0 514.2,1574.0 515.2,1573.1 516.2,1572.2 517.2,1571.4 518.2,1570.6 519.2,1569.8 520.2,1569.2 521.2,1568.6 522.2,1568.0 523.2,1567.5 524.2,1567.1 525.2,1566.7 526.2,1566.4 527.2,1566.1 528.2,1565.9 529.3,1565.7 530.3,1565.7 531.3,1565.6"/>
<polyline stroke="#8000FF" points="531.3,1565.6 532.3,1565.6 533.3,1565.7 534.3,1565.9 535.3,1566.1 536.3,1566.3 537.3,1566.6 538.3,1566.9 539.3,1567.3 540.3,1567.8 541.3,1568.3 542.3,1568.9 543.3,1569.5 544.3,1570.1 545.3,1570.9 546.3,1571.6 547.3,1572.4 548.3,1573.3 549.3,1574.2 550.3,1575.2 551.3,1576.2 552.3,1577.3 553.3,1578.4 554.3,1579.5 555.3,1580.7 556.3,1582.0 557.4,1583.3 558.4,1584.6 559.4,1586.0 560.4,1587.4 561.4,1588.9 562.4,1590.4 563.4,1591.9 564.4,1593.5 565.4,1595.2 566.4,1596.8 567.4,1598.5 568.4,1600.3 569.4,1602.0 570.4,1603.8 571.4,1605.7 572.4,1607.5 573.4,1609.4 574.4,1611.4 575.4,1613.3 576.4,1615.3 577.4,1617.3 578.4,1619.4 579.4,1621.4 580.4,1623.5 581.4,1625.6 582.4,1627.7 583.4,1629.9 584.4,1632.1 585.4,1634.2 586.5,1636.4 587.5,1638.7 588.5,1640.9 589.5,1643.1 590.5,1645.4 591.5,1647.6 592.5,1649.9 593.5,1652.2 594.5,1654.5 595.5,1656.8 596.5,1659.1 597.5,1661.4 598.5,1663.7 599.5,1666.0 600.5,1668.3 601.5,1670.6 602.5,1672.8 603.5,1675.1 604.5,1677.4 605.5,1679.7 606.5,1681.9 607.5,1684.2 608.5,1686.4 609.5,1688.7 610.5,1690.9 611.5,1693.1 612.5,1695.3 613.5,1697.4 614.5,1699.6 615.5,1701.7 616.6,1703.8 617.6,1705.9 618.6,1708.0 619.6,1710.0 620.6,1712.0 621.6,1714.0 622.6,1716.0 623.6,1717.9 624.6,1719.8 625.6,1721.7 626.6,1723.5 627.6,1725.3 628.6,1727.1 629.6,1728.8 630.6,1730.5 631.6,1732.2 632.6,1733.8 633.6,1735.4 634.6,1736.9 635.6,1738.4 636.6,1739.9 637.6,1741.3 638.6,1742.7 639.6,1744.0 640.6,1745.3 641.6,1746.6 642.6,1747.8 643.6,1748.9 644.6,1750.1 645.6,1751.1 646.7,1752.1 647.7,1753.1 648.7,1754.0 649.7,1754.9 650.7,1755.7 651.7,1756.5 652.7,1757.2 653.7,1757.8 654.7,1758.5 655.7,1759.0 656.7,1759.5 657.7,1760.0 658.7,1760.4 659.7,1760.7 660.7,1761.0 661.7,1761.3 662.7,1761.5 663.7,1761.6 664.7,1761.7 665.7,1761.7"/>
<polyline stroke="#FF8000" points="665.7,1761.7 666.7,1761.7 667.7,1761.5 668.7,1761.3 669.7,1760.9 670.7,1760.5 671.7,1759.9 672.7,1759.3 673.8,1758.6 674.8,1757.8 675.8,1756.8 676.8,1755.8 677.8,1754.7 678.8,1753.5 679.8,1752.2 680.8,1750.8 681.8,1749.4 682.8,1747.8 683.8,1746.1 684.8,1744.4 685.8,1742.5 686.8,1740.6 687.8,1738.6 688.8,1736.5 689.8,1734.3 690.8,1732.1 691.8,1729.7 692.8,1727.3 693.8,1724.8 694.9,1722.2 695.9,1719.5 696.9,1716.8 697.9,1714.0 698.9,1711.1 699.9,1708.2 700.9,1705.2 701.9,1702.1 702.9,1698.9 703.9,1695.7 704.9,1692.4 705.9,1689.1 706.9,1685.7 707.9,1682.3 708.9,1678.8 709.9,1675.2 710.9,1671.6 711.9,1667.9 712.9,1664.2 713.9,1660.5 714.9,1656.7 715.9,1652.9 717.0,1649.0 718.0,1645.1 719.0,1641.2 720.0,1637.2 721.0,1633.2 722.0,1629.2 723.0,1625.1 724.0,1621.0 725.0,1616.9 726.0,1612.8 727.0,1608.7 728.0,1604.5 729.0,1600.3 730.0,1596.2 731.0,1592.0 732.0,1587.8 733.0,1583.6 734.0,1579.4 735.0,1575.2 736.0,1571.0 737.0,1566.8 738.1,1562.7 739.1,1558.5 740.1,1554.4 741.1,1550.2 742.1,1546.1 743.1,1542.0 744.1,1537.9 745.1,1533.9 746.1,1529.8 747.1,1525.8 748.1,1521.8 749.1,1517.9 750.1,1514.0 751.1,1510.1 752.1,1506.3 753.1,1502.5 754.1,1498.8 755.1,1495.1 756.1,1491.4 757.1,1487.8 758.1,1484.2 759.2,1480.7 760.2,1477.3 761.2,1473.9 762.2,1470.6 763.2,1467.3 764.2,1464.1 765.2,1460.9 766.2,1457.8 767.2,1454.8 768.2,1451.9 769.2,1449.0 770.2,1446.2 771.2,1443.5 772.2,1440.8 773.2,1438.2 774.2,1435.7 775.2,1433.3 776.2,1431.0 777.2,1428.7 778.2,1426.5 779.2,1424.4 780.2,1422.4 781.3,1420.5 782.3,1418.6 783.3,1416.9 784.3,1415.2 785.3,1413.7 786.3,1412.2 787.3,1410.8 788.3,1409.5 789.3,1408.3 790.3,1407.2 791.3,1406.2 792.3,1405.2 793.3,1404.4 794.3,1403.7 795.3,1403.1 796.3,1402.5 797.3,1402.1 798.3,1401.7 799.3,1401.5 800.3,1401.4 801.3,1401.3 802.4,1401.4 803.4,1401.5 804.4,1401.8 805.4,1402.2 806.4,1402.7 807.4,1403.3 808.4,1404.0 809.4,1404.8 810.5,1405.7 811.5,1406.7 812.5,1407.8 813.5,1409.1 814.5,1410.4 815.5,1411.9 816.5,1413.4 817.5,1415.0 818.6,1416.8 819.6,1418.6 820.6,1420.6 821.6,1422.6 822.6,1424.8 823.6,1427.0 824.6,1429.3 825.6,1431.7 826.7,1434.2 827.7,1436.8 828.7,1439.5 829.7,1442.3 830.7,1445.1 831.7,1448.1 832.7,1451.1 833.7,1454.2 834.8,1457.3 835.8,1460.6 836.8,1463.9 837.8,1467.3 838.8,1470.7 839.8,1474.3 840.8,1477.9 841.8,1481.5 842.8,1485.2 843.9,1489.0 844.9,1492.8 845.9,1496.7 846.9,1500.6 847.9,1504.6 848.9,1508.6 849.9,1512.7 850.9,1516.8 852.0,1521.0 853.0,1525.2 854.0,1529.4 855.0,1533.6 856.0,1537.9 857.0,1542.2 858.0,1546.5 859.0,1550.9 860.1,1555.3 861.1,1559.7 862.1,1564.1 863.1,1568.5 864.1,1572.9"/>
<polyline stroke="#008000" points="868.0,1583.5 869.0,1590.6 870.0,1597.6 871.0,1604.6 872.0,1611.4 873.0,1618.1 874.0,1624.7 875.0,1631.1 876.0,1637.5 877.0,1643.7 878.0,1649.8 879.1,1655.8 880.1,1661.6 881.1,1667.3 882.1,1672.9 883.1,1678.3 884.1,1683.5 885.1,1688.6 886.1,1693.6 887.1,1698.4 888.1,1703.0 889.1,1707.5 890.1,1711.8 891.1,1716.0 892.1,1719.9 893.1,1723.8 894.1,1727.4 895.1,1730.9 896.1,1734.1 897.1,1737.3 898.1,1740.2 899.1,1742.9 900.1,1745.5 901.1,1747.9 902.1,1750.1 903.1,1752.1 904.1,1753.9 905.1,1755.5 906.1,1757.0 907.1,1758.2 908.1,1759.3 909.1,1760.2 910.1,1760.8 911.1,1761.3 912.1,1761.6 913.1,1761.7 914.1,1761.6 915.1,1761.3 916.1,1760.8 917.1,1760.1 918.1,1759.2 919.1,1758.1 920.1,1756.8 921.1,1755.3 922.1,1753.6 923.1,1751.8 924.1,1749.7 925.1,1747.4 926.1,1744.9 927.1,1742.3 928.1,1739.4 929.1,1736.4 930.1,1733.2 931.1,1729.8 932.1,1726.2 933.1,1722.5 934.1,1718.5 935.1,1714.4 936.1,1710.1 937.1,1705.7 938.1,1701.0 939.1,1696.2 940.1,1691.3 941.1,1686.2 942.1,1680.9 943.1,1675.5 944.1,1669.9 945.1,1664.2 946.1,1658.3 947.1,1652.3 948.1,1646.2 949.1,1639.9 950.1,1633.5 951.1,1626.9 952.1,1620.3 953.1,1613.5 954.1,1606.6 955.1,1599.6 956.1,1592.4 957.1,1585.2 958.1,1577.9 959.1,1570.5 960.1,1563.0 961.1,1555.4 962.1,1547.7 963.1,1539.9 964.1,1532.1 965.1,1524.2 966.1,1516.2 967.1,1508.2 968.1,1500.1 969.1,1491.9 970.1,1483.8 971.1,1475.5 972.1,1467.3 973.1,1459.0 974.1,1450.6 975.1,1442.3 976.1,1433.9 977.1,1425.5 978.1,1417.1 979.1,1408.7 980.1,1400.3 981.1,1391.9 982.1,1383.5 983.1,1375.2 984.1,1366.8 985.1,1358.5 986.1,1350.2 987.1,1341.9 988.1,1333.7 989.1,1325.5 990.1,1317.4 991.1,1309.3 992.1,1301.2 993.1,1293.3 994.1,1285.4 995.1,1277.5 996.1,1269.8 997.1,1262.1 998.1,1254.5 999.1,1247.0 1000.1,1239.6 1001.1,1232.2 1002.1,1225.0 1003.1,1217.9 1004.1,1210.9 1005.1,1204.0 1006.1,1197.2 1007.1,1190.5 1008.1,1184.0 1009.1,1177.6 1010.1,1171.3 1011.1,1165.1 1012.1,1159.1 1013.1,1153.3 1014.1,1147.5 1015.1,1142.0 1016.1,1136.5 1017.1,1131.3 1018.1,1126.1 1019.1,1121.2 1020.1,1116.4 1021.1,1111.8 1022.1,1107.3 1023.1,1103.0 1024.1,1098.9 1025.1,1095.0 1026.1,1091.2 1027.1,1087.6 1028.1,1084.2 1029.1,1081.0 1030.1,1078.0 1031.1,1075.2 1032.1,1072.5 1033.1,1070.0 1034.1,1067.8 1035.1,1065.7 1036.1,1063.8 1037.1,1062.1 1038.1,1060.6 1039.1,1059.3 1040.1,1058.2 1041.1,1057.3 1042.1,1056.6 1043.1,1056.1 1044.1,1055.8 1045.1,1055.7 1046.2,1055.8 1047.2,1056.1 1048.2,1056.6 1049.2,1057.3 1050.2,1058.2 1051.2,1059.3 1052.2,1060.6 1053.2,1062.1 1054.2,1063.8 1055.2,1065.6 1056.2,1067.7 1057.2,1070.0 1058.2,1072.4 1059.3,1075.1 1060.3,1077.9 1061.3,1080.9 1062.3,1084.1 1063.3,1087.5 1064.3,1091.1 1065.3,1094.8 1066.3,1098.7 1067.3,1102.8 1068.3,1107.1 1069.3,1111.5 1070.3,1116.1 1071.4,1120.9 1072.4,1125.8 1073.4,1130.9 1074.4,1136.2 1075.4,1141.6 1076.4,1147.1 1077.4,1152.8 1078.4,1158.6 1079.4,1164.6 1080.4,1170.8 1081.4,1177.0 1082.4,1183.4 1083.5,1189.9 1084.5,1196.5 1085.5,1203.3 1086.5,1210.2 1087.5,1217.2 1088.5,1224.2 1089.5,1231.4 1090.5,1238.7 1091.5,1246.1 1092.5,1253.6 1093.5,1261.2 1094.5,1268.8 1095.5,1276.6 1096.6,1284.4 1097.6,1292.3 1098.6,1300.2 1099.6,1308.2 1100.6,1316.3 1101.6,1324.4 1102.6,1332.5 1103.6,1340.7 1104.6,1349.0 1105.6,1357.3 1106.6,1365.6 1107.6,1373.9 1108.7,1382.2 1109.7,1390.6 1110.7,1399.0 1111.7,1407.4 1112.7,1415.7 1113.7,1424.1 1114.7,1432.5 1115.7,1440.8 1116.7,1449.2 1117.7,1457.5 1118.7,1465.8 1119.7,1474.0 1120.8,1482.2 1121.8,1490.4 1122.8,1498.5 1123.8,1506.6 1124.8,1514.6 1125.8,1522.6 1126.8,1530.5 1127.8,1538.3 1128.8,1546.1 1129.8,1553.8 1130.8,1561.4 1131.8,1568.9 1132.8,1576.3 1133.9,1583.6"/>
</g>
<path d="M267.82 941.8V1761.7M402.34 945.7V1761.7M531.46 943.3V1761.7M665.65 945.7V1761.7M867.46 944.1V1761.7" stroke="#000" stroke-width="3" stroke-dasharray="16 14.8" fill="none" clip-path="url(#clip-c)"/>
<rect x="212.1" y="1015.8" width="361.2" height="124.8" fill="#000"/>
<rect x="200.6" y="1004.3" width="361.2" height="124.8" fill="#fff" stroke="#333" stroke-width="1.3"/>
<path d="M205.9 1032.8H298.3" stroke="#FF8000" stroke-width="5.4" stroke-linecap="round"/>
<path d="M205.9 1092.6H298.3" stroke="#8000FF" stroke-width="5.4" stroke-linecap="round"/>
<text transform="translate(309.1 1046.7) scale(1 1.02)" font-size="41.3">SiO<tspan font-size="27.5" dy="11">2</tspan><tspan dy="-11"> material</tspan></text>
<text transform="translate(309 1106.2) scale(1 1.02)" font-size="41.3">HfO<tspan font-size="27.5" dy="11">2</tspan><tspan dy="-11"> material</tspan></text>
<text transform="translate(139.8 1772.1) scale(1.01 1.03)" font-size="33.2" text-anchor="end">0</text>
<text transform="translate(139.8 1683.86) scale(1.01 1.03)" font-size="33.2" text-anchor="end">50</text>
<text transform="translate(139.8 1595.61) scale(1.01 1.03)" font-size="33.2" text-anchor="end">100</text>
<text transform="translate(139.8 1507.37) scale(1.01 1.03)" font-size="33.2" text-anchor="end">150</text>
<text transform="translate(139.8 1419.12) scale(1.01 1.03)" font-size="33.2" text-anchor="end">200</text>
<text transform="translate(139.8 1330.88) scale(1.01 1.03)" font-size="33.2" text-anchor="end">250</text>
<text transform="translate(139.8 1242.63) scale(1.01 1.03)" font-size="33.2" text-anchor="end">300</text>
<text transform="translate(139.8 1154.39) scale(1.01 1.03)" font-size="33.2" text-anchor="end">350</text>
<text transform="translate(139.8 1066.14) scale(1.01 1.03)" font-size="33.2" text-anchor="end">400</text>
<text transform="translate(139.8 977.9) scale(1.01 1.03)" font-size="33.2" text-anchor="end">450</text>
<text transform="translate(222.41 1804.8) scale(1.01 1.03)" font-size="33.2" text-anchor="middle">5600</text>
<text transform="translate(353.84 1804.8) scale(1.01 1.03)" font-size="33.2" text-anchor="middle">5800</text>
<text transform="translate(485.27 1804.8) scale(1.01 1.03)" font-size="33.2" text-anchor="middle">6000</text>
<text transform="translate(616.69 1804.8) scale(1.01 1.03)" font-size="33.2" text-anchor="middle">6200</text>
<text transform="translate(748.12 1804.8) scale(1.01 1.03)" font-size="33.2" text-anchor="middle">6400</text>
<text transform="translate(879.55 1804.8) scale(1.01 1.03)" font-size="33.2" text-anchor="middle">6600</text>
<text transform="translate(1010.97 1804.8) scale(1.01 1.03)" font-size="33.2" text-anchor="middle">6800</text>
<text transform="translate(1142.4 1804.8) scale(1.01 1.03)" font-size="33.2" text-anchor="middle">7000</text>
<text transform="translate(649.55 1867.8) scale(1 1.02)" font-size="41.3" text-anchor="middle">Optical thickness, nm</text>
<text transform="translate(37.3 1407.8) rotate(-90) scale(1 1.02)" x="0" y="0" font-size="41.3">|E|<tspan font-size="27.5" dy="-16.4">2</tspan><tspan dy="16.4">, %</tspan></text>
<text transform="translate(179.42 1406.3) scale(1 1.02)" font-size="41.3">28 l.</text>
<text transform="translate(301.12 1407.2) scale(1 1.02)" font-size="41.3">29 l.</text>
<text transform="translate(434.63 1407.2) scale(1 1.02)" font-size="41.3">30 l.</text>
<text transform="translate(557.93 1409.3) scale(1 1.02)" font-size="41.3">31 l.</text>
<text transform="translate(704.03 1404.1) scale(1 1.02)" font-size="41.3">32 l.</text>
<text transform="translate(1015.92 1405) scale(1 1.02)" font-size="41.3">Air</text>
<text transform="translate(1155.3 1877.3) scale(0.95 1)" font-size="37.8">c)</text>
</g>
<g id="plot-d">
<clipPath id="clip-d"><rect x="1334.6" y="967.6" width="985.4" height="794"/></clipPath>
<path d="M1396.19 1761.6V1745.8M1396.19 967.6V983.4M1457.77 1761.6V1753.9M1457.77 967.6V975.3M1519.36 1761.6V1745.8M1519.36 967.6V983.4M1580.95 1761.6V1753.9M1580.95 967.6V975.3M1642.54 1761.6V1745.8M1642.54 967.6V983.4M1704.12 1761.6V1753.9M1704.12 967.6V975.3M1765.71 1761.6V1745.8M1765.71 967.6V983.4M1827.3 1761.6V1753.9M1827.3 967.6V975.3M1888.89 1761.6V1745.8M1888.89 967.6V983.4M1950.47 1761.6V1753.9M1950.47 967.6V975.3M2012.06 1761.6V1745.8M2012.06 967.6V983.4M2073.65 1761.6V1753.9M2073.65 967.6V975.3M2135.24 1761.6V1745.8M2135.24 967.6V983.4M2196.82 1761.6V1753.9M2196.82 967.6V975.3M2258.41 1761.6V1745.8M2258.41 967.6V983.4M1334.6 1717.49H1342.3M2320 1717.49H2312.3M1334.6 1673.38H1350.4M2320 1673.38H2304.2M1334.6 1629.27H1342.3M2320 1629.27H2312.3M1334.6 1585.16H1350.4M2320 1585.16H2304.2M1334.6 1541.04H1342.3M2320 1541.04H2312.3M1334.6 1496.93H1350.4M2320 1496.93H2304.2M1334.6 1452.82H1342.3M2320 1452.82H2312.3M1334.6 1408.71H1350.4M2320 1408.71H2304.2M1334.6 1364.6H1342.3M2320 1364.6H2312.3M1334.6 1320.49H1350.4M2320 1320.49H2304.2M1334.6 1276.38H1342.3M2320 1276.38H2312.3M1334.6 1232.27H1350.4M2320 1232.27H2304.2M1334.6 1188.16H1342.3M2320 1188.16H2312.3M1334.6 1144.04H1350.4M2320 1144.04H2304.2M1334.6 1099.93H1342.3M2320 1099.93H2312.3M1334.6 1055.82H1350.4M2320 1055.82H2304.2M1334.6 1011.71H1342.3M2320 1011.71H2312.3" stroke="#000" stroke-width="2.8" fill="none"/>
<rect x="1334.6" y="967.6" width="985.4" height="794" fill="none" stroke="#000" stroke-width="3.0"/>
<g clip-path="url(#clip-d)" fill="none" stroke-width="5.2" stroke-linejoin="round" stroke-linecap="round">
<polyline stroke="#FF8000" points="1334.6,1757.0 1335.6,1756.5 1336.6,1756.0 1337.6,1755.5 1338.6,1755.0 1339.6,1754.5 1340.6,1754.0 1341.6,1753.4 1342.6,1752.8 1343.6,1752.2 1344.6,1751.6 1345.6,1750.9 1346.6,1750.3 1347.6,1749.6 1348.6,1748.9 1349.6,1748.2 1350.6,1747.5 1351.6,1746.8 1352.6,1746.0 1353.6,1745.3 1354.6,1744.5 1355.6,1743.7 1356.6,1743.0 1357.6,1742.2 1358.6,1741.3 1359.6,1740.5 1360.6,1739.7 1361.6,1738.9 1362.6,1738.0 1363.6,1737.1 1364.6,1736.3 1365.6,1735.4 1366.6,1734.5 1367.6,1733.7 1368.6,1732.8 1369.6,1731.9 1370.6,1731.0 1371.6,1730.1 1372.6,1729.2 1373.6,1728.3 1374.6,1727.4 1375.6,1726.5 1376.6,1725.6 1377.6,1724.6 1378.6,1723.7 1379.6,1722.8 1380.6,1721.9 1381.6,1721.0 1382.6,1720.1 1383.6,1719.2 1384.6,1718.3 1385.6,1717.5 1386.6,1716.6 1387.6,1715.7 1388.6,1714.8 1389.6,1714.0 1390.6,1713.1 1391.6,1712.3 1392.6,1711.4 1393.6,1710.6 1394.6,1709.8 1395.6,1709.0 1396.6,1708.2 1397.7,1707.4 1398.7,1706.6 1399.7,1705.9 1400.7,1705.1 1401.7,1704.4 1402.7,1703.7 1403.7,1702.9 1404.7,1702.2 1405.7,1701.6 1406.7,1700.9 1407.7,1700.3 1408.7,1699.6 1409.7,1699.0 1410.7,1698.4 1411.7,1697.8 1412.7,1697.3 1413.7,1696.7 1414.7,1696.2 1415.7,1695.7 1416.7,1695.2 1417.7,1694.7 1418.7,1694.3 1419.7,1693.8 1420.7,1693.4 1421.7,1693.1 1422.7,1692.7 1423.7,1692.3 1424.7,1692.0 1425.7,1691.7 1426.7,1691.4 1427.7,1691.2 1428.7,1690.9 1429.7,1690.7 1430.7,1690.5 1431.7,1690.3 1432.7,1690.2 1433.7,1690.1 1434.7,1690.0 1435.7,1689.9 1436.7,1689.8 1437.7,1689.8 1438.7,1689.8"/>
<polyline stroke="#8000FF" points="1438.7,1689.8 1439.7,1689.8 1440.7,1689.8 1441.7,1689.9 1442.7,1690.0 1443.7,1690.1 1444.7,1690.2 1445.7,1690.4 1446.7,1690.5 1447.8,1690.7 1448.8,1691.0 1449.8,1691.2 1450.8,1691.5 1451.8,1691.8 1452.8,1692.1 1453.8,1692.4 1454.8,1692.8 1455.8,1693.2 1456.8,1693.6 1457.8,1694.0 1458.8,1694.4 1459.9,1694.9 1460.9,1695.4 1461.9,1695.9 1462.9,1696.4 1463.9,1697.0 1464.9,1697.5 1465.9,1698.1 1466.9,1698.7 1467.9,1699.3 1468.9,1700.0 1469.9,1700.6 1470.9,1701.3 1472.0,1702.0 1473.0,1702.7 1474.0,1703.4 1475.0,1704.1 1476.0,1704.9 1477.0,1705.6 1478.0,1706.4 1479.0,1707.2 1480.0,1708.0 1481.0,1708.8 1482.0,1709.6 1483.0,1710.5 1484.0,1711.3 1485.1,1712.2 1486.1,1713.0 1487.1,1713.9 1488.1,1714.8 1489.1,1715.7 1490.1,1716.5 1491.1,1717.4 1492.1,1718.3 1493.1,1719.3 1494.1,1720.2 1495.1,1721.1 1496.1,1722.0 1497.2,1722.9 1498.2,1723.8 1499.2,1724.8 1500.2,1725.7 1501.2,1726.6 1502.2,1727.5 1503.2,1728.5 1504.2,1729.4 1505.2,1730.3 1506.2,1731.2 1507.2,1732.1 1508.2,1733.0 1509.3,1733.9 1510.3,1734.8 1511.3,1735.7 1512.3,1736.6 1513.3,1737.5 1514.3,1738.4 1515.3,1739.2 1516.3,1740.1 1517.3,1740.9 1518.3,1741.7 1519.3,1742.6 1520.3,1743.4 1521.3,1744.2 1522.4,1745.0 1523.4,1745.7 1524.4,1746.5 1525.4,1747.2 1526.4,1748.0 1527.4,1748.7 1528.4,1749.4 1529.4,1750.1 1530.4,1750.8 1531.4,1751.4 1532.4,1752.0 1533.4,1752.7 1534.5,1753.3 1535.5,1753.8 1536.5,1754.4 1537.5,1755.0 1538.5,1755.5 1539.5,1756.0 1540.5,1756.5 1541.5,1756.9 1542.5,1757.4 1543.5,1757.8 1544.5,1758.2 1545.5,1758.6 1546.6,1759.0 1547.6,1759.3 1548.6,1759.6 1549.6,1759.9 1550.6,1760.2 1551.6,1760.4 1552.6,1760.6 1553.6,1760.8 1554.6,1761.0 1555.6,1761.2 1556.6,1761.3 1557.6,1761.4 1558.6,1761.5 1559.7,1761.6 1560.7,1761.6 1561.7,1761.6"/>
<polyline stroke="#FF8000" points="1561.7,1761.6 1562.7,1761.6 1563.7,1761.5 1564.7,1761.4 1565.7,1761.3 1566.7,1761.1 1567.7,1760.9 1568.7,1760.6 1569.7,1760.3 1570.7,1760.0 1571.7,1759.6 1572.7,1759.2 1573.7,1758.7 1574.7,1758.2 1575.7,1757.7 1576.7,1757.1 1577.7,1756.5 1578.7,1755.9 1579.7,1755.2 1580.7,1754.5 1581.7,1753.7 1582.7,1753.0 1583.7,1752.1 1584.7,1751.3 1585.7,1750.4 1586.7,1749.5 1587.7,1748.5 1588.7,1747.5 1589.7,1746.5 1590.7,1745.4 1591.7,1744.4 1592.7,1743.3 1593.7,1742.1 1594.7,1740.9 1595.7,1739.8 1596.7,1738.5 1597.7,1737.3 1598.7,1736.0 1599.7,1734.7 1600.7,1733.4 1601.7,1732.0 1602.8,1730.7 1603.8,1729.3 1604.8,1727.9 1605.8,1726.5 1606.8,1725.0 1607.8,1723.5 1608.8,1722.1 1609.8,1720.6 1610.8,1719.1 1611.8,1717.5 1612.8,1716.0 1613.8,1714.4 1614.8,1712.9 1615.8,1711.3 1616.8,1709.7 1617.8,1708.1 1618.8,1706.5 1619.8,1704.9 1620.8,1703.3 1621.8,1701.7 1622.8,1700.1 1623.8,1698.5 1624.8,1696.9 1625.8,1695.2 1626.8,1693.6 1627.8,1692.0 1628.8,1690.4 1629.8,1688.8 1630.8,1687.2 1631.8,1685.6 1632.8,1684.0 1633.8,1682.4 1634.8,1680.8 1635.8,1679.2 1636.8,1677.7 1637.8,1676.1 1638.8,1674.6 1639.8,1673.0 1640.8,1671.5 1641.8,1670.0 1642.8,1668.6 1643.8,1667.1 1644.8,1665.6 1645.8,1664.2 1646.8,1662.8 1647.8,1661.4 1648.8,1660.1 1649.8,1658.7 1650.8,1657.4 1651.8,1656.1 1652.8,1654.8 1653.8,1653.6 1654.8,1652.4 1655.9,1651.2 1656.9,1650.0 1657.9,1648.8 1658.9,1647.7 1659.9,1646.7 1660.9,1645.6 1661.9,1644.6 1662.9,1643.6 1663.9,1642.6 1664.9,1641.7 1665.9,1640.8 1666.9,1640.0 1667.9,1639.1 1668.9,1638.4 1669.9,1637.6 1670.9,1636.9 1671.9,1636.2 1672.9,1635.6 1673.9,1635.0 1674.9,1634.4 1675.9,1633.9 1676.9,1633.4 1677.9,1632.9 1678.9,1632.5 1679.9,1632.1 1680.9,1631.8 1681.9,1631.5 1682.9,1631.2 1683.9,1631.0 1684.9,1630.8 1685.9,1630.7 1686.9,1630.6 1687.9,1630.5 1688.9,1630.5"/>
<polyline stroke="#8000FF" points="1688.9,1630.5 1689.9,1630.5 1690.9,1630.6 1691.9,1630.7 1692.9,1630.9 1693.9,1631.1 1695.0,1631.3 1696.0,1631.6 1697.0,1631.9 1698.0,1632.3 1699.0,1632.7 1700.0,1633.2 1701.0,1633.7 1702.0,1634.2 1703.0,1634.8 1704.0,1635.4 1705.0,1636.1 1706.0,1636.8 1707.0,1637.5 1708.0,1638.3 1709.0,1639.1 1710.0,1640.0 1711.1,1640.9 1712.1,1641.8 1713.1,1642.8 1714.1,1643.8 1715.1,1644.9 1716.1,1646.0 1717.1,1647.1 1718.1,1648.2 1719.1,1649.4 1720.1,1650.6 1721.1,1651.9 1722.1,1653.1 1723.1,1654.4 1724.1,1655.8 1725.1,1657.1 1726.1,1658.5 1727.2,1659.9 1728.2,1661.3 1729.2,1662.8 1730.2,1664.3 1731.2,1665.8 1732.2,1667.3 1733.2,1668.8 1734.2,1670.4 1735.2,1672.0 1736.2,1673.5 1737.2,1675.1 1738.2,1676.8 1739.2,1678.4 1740.2,1680.0 1741.2,1681.7 1742.2,1683.4 1743.3,1685.0 1744.3,1686.7 1745.3,1688.4 1746.3,1690.1 1747.3,1691.8 1748.3,1693.5 1749.3,1695.2 1750.3,1696.9 1751.3,1698.6 1752.3,1700.3 1753.3,1702.0 1754.3,1703.7 1755.3,1705.4 1756.3,1707.1 1757.3,1708.7 1758.3,1710.4 1759.4,1712.1 1760.4,1713.7 1761.4,1715.3 1762.4,1717.0 1763.4,1718.6 1764.4,1720.1 1765.4,1721.7 1766.4,1723.3 1767.4,1724.8 1768.4,1726.3 1769.4,1727.8 1770.4,1729.3 1771.4,1730.8 1772.4,1732.2 1773.4,1733.6 1774.4,1735.0 1775.5,1736.3 1776.5,1737.7 1777.5,1739.0 1778.5,1740.2 1779.5,1741.5 1780.5,1742.7 1781.5,1743.9 1782.5,1745.0 1783.5,1746.1 1784.5,1747.2 1785.5,1748.3 1786.5,1749.3 1787.5,1750.3 1788.5,1751.2 1789.5,1752.1 1790.5,1753.0 1791.6,1753.8 1792.6,1754.6 1793.6,1755.3 1794.6,1756.0 1795.6,1756.7 1796.6,1757.3 1797.6,1757.9 1798.6,1758.4 1799.6,1758.9 1800.6,1759.4 1801.6,1759.8 1802.6,1760.2 1803.6,1760.5 1804.6,1760.8 1805.6,1761.0 1806.6,1761.2 1807.7,1761.4 1808.7,1761.5 1809.7,1761.6 1810.7,1761.6"/>
<polyline stroke="#FF8000" points="1810.7,1761.6 1811.7,1761.6 1812.7,1761.4 1813.7,1761.3 1814.7,1761.0 1815.7,1760.7 1816.7,1760.2 1817.7,1759.8 1818.7,1759.2 1819.7,1758.6 1820.7,1757.9 1821.7,1757.1 1822.7,1756.2 1823.8,1755.3 1824.8,1754.3 1825.8,1753.2 1826.8,1752.1 1827.8,1750.9 1828.8,1749.6 1829.8,1748.3 1830.8,1746.8 1831.8,1745.4 1832.8,1743.8 1833.8,1742.2 1834.8,1740.5 1835.8,1738.8 1836.8,1737.0 1837.8,1735.2 1838.9,1733.2 1839.9,1731.3 1840.9,1729.2 1841.9,1727.2 1842.9,1725.0 1843.9,1722.8 1844.9,1720.6 1845.9,1718.3 1846.9,1716.0 1847.9,1713.6 1848.9,1711.1 1849.9,1708.7 1850.9,1706.1 1851.9,1703.6 1852.9,1701.0 1853.9,1698.4 1855.0,1695.7 1856.0,1693.0 1857.0,1690.2 1858.0,1687.5 1859.0,1684.7 1860.0,1681.8 1861.0,1679.0 1862.0,1676.1 1863.0,1673.2 1864.0,1670.3 1865.0,1667.4 1866.0,1664.4 1867.0,1661.4 1868.0,1658.4 1869.0,1655.5 1870.1,1652.5 1871.1,1649.4 1872.1,1646.4 1873.1,1643.4 1874.1,1640.4 1875.1,1637.4 1876.1,1634.3 1877.1,1631.3 1878.1,1628.3 1879.1,1625.3 1880.1,1622.3 1881.1,1619.3 1882.1,1616.4 1883.1,1613.4 1884.1,1610.5 1885.1,1607.6 1886.2,1604.7 1887.2,1601.8 1888.2,1598.9 1889.2,1596.1 1890.2,1593.3 1891.2,1590.5 1892.2,1587.8 1893.2,1585.1 1894.2,1582.4 1895.2,1579.8 1896.2,1577.2 1897.2,1574.6 1898.2,1572.1 1899.2,1569.6 1900.2,1567.2 1901.2,1564.8 1902.3,1562.5 1903.3,1560.2 1904.3,1557.9 1905.3,1555.7 1906.3,1553.6 1907.3,1551.5 1908.3,1549.5 1909.3,1547.5 1910.3,1545.6 1911.3,1543.8 1912.3,1542.0 1913.3,1540.2 1914.3,1538.6 1915.3,1536.9 1916.3,1535.4 1917.4,1533.9 1918.4,1532.5 1919.4,1531.2 1920.4,1529.9 1921.4,1528.7 1922.4,1527.5 1923.4,1526.5 1924.4,1525.5 1925.4,1524.6 1926.4,1523.7 1927.4,1522.9 1928.4,1522.2 1929.4,1521.6 1930.4,1521.0 1931.4,1520.5 1932.4,1520.1 1933.5,1519.8 1934.5,1519.5 1935.5,1519.3 1936.5,1519.2 1937.5,1519.2 1938.5,1519.2 1939.5,1519.3 1940.5,1519.5 1941.5,1519.8 1942.5,1520.1 1943.5,1520.6 1944.5,1521.1 1945.5,1521.6 1946.5,1522.3 1947.5,1523.0 1948.5,1523.8 1949.5,1524.7 1950.5,1525.7 1951.5,1526.7 1952.5,1527.8 1953.5,1529.0 1954.5,1530.2 1955.5,1531.6 1956.5,1532.9 1957.5,1534.4 1958.5,1535.9 1959.5,1537.5 1960.5,1539.2 1961.5,1540.9 1962.5,1542.7 1963.5,1544.5 1964.5,1546.4 1965.5,1548.4 1966.5,1550.4 1967.5,1552.5 1968.5,1554.7 1969.5,1556.9 1970.5,1559.1 1971.5,1561.4 1972.5,1563.8 1973.5,1566.2 1974.5,1568.6 1975.5,1571.1 1976.5,1573.7 1977.5,1576.3 1978.5,1578.9 1979.5,1581.6 1980.5,1584.3 1981.5,1587.0 1982.5,1589.8 1983.5,1592.6 1984.5,1595.4 1985.5,1598.3 1986.5,1601.2 1987.5,1604.1 1988.5,1607.0 1989.5,1610.0 1990.5,1613.0 1991.5,1616.0 1992.6,1619.0 1993.6,1622.0 1994.6,1625.1 1995.6,1628.1 1996.6,1631.2 1997.6,1634.2 1998.6,1637.3 1999.6,1640.4 2000.6,1643.5 2001.6,1646.5 2002.6,1649.6 2003.6,1652.6 2004.6,1655.7 2005.6,1658.7 2006.6,1661.8 2007.6,1664.8 2008.6,1667.8 2009.6,1670.8 2010.6,1673.7 2011.6,1676.7 2012.6,1679.6 2013.6,1682.5 2014.6,1685.3 2015.6,1688.2 2016.6,1691.0 2017.6,1693.8 2018.6,1696.5 2019.6,1699.2 2020.6,1701.9 2021.6,1704.5 2022.6,1707.1 2023.6,1709.6 2024.6,1712.1 2025.6,1714.6 2026.6,1717.0 2027.6,1719.3 2028.6,1721.6 2029.6,1723.9 2030.6,1726.1 2031.6,1728.2 2032.6,1730.3 2033.6,1732.4 2034.6,1734.3 2035.6,1736.2 2036.6,1738.1 2037.6,1739.9 2038.6,1741.6 2039.6,1743.3 2040.6,1744.8 2041.6,1746.4 2042.6,1747.8 2043.6,1749.2 2044.6,1750.5 2045.6,1751.8 2046.6,1753.0 2047.6,1754.1 2048.6,1755.1 2049.6,1756.0 2050.6,1756.9 2051.6,1757.7 2052.6,1758.5 2053.6,1759.1 2054.6,1759.7 2055.6,1760.2 2056.6,1760.6 2057.6,1761.0 2058.6,1761.3 2059.6,1761.4 2060.6,1761.6 2061.6,1761.6"/>
<polyline stroke="#008000" points="2061.6,1761.6 2062.6,1761.5 2063.7,1761.2 2064.7,1760.6 2065.7,1759.8 2066.7,1758.8 2067.7,1757.6 2068.7,1756.2 2069.7,1754.5 2070.7,1752.6 2071.7,1750.5 2072.7,1748.2 2073.7,1745.7 2074.7,1742.9 2075.7,1740.0 2076.7,1736.8 2077.7,1733.5 2078.7,1729.9 2079.7,1726.1 2080.7,1722.1 2081.8,1718.0 2082.8,1713.6 2083.8,1709.0 2084.8,1704.3 2085.8,1699.3 2086.8,1694.2 2087.8,1688.9 2088.8,1683.4 2089.8,1677.8 2090.8,1671.9 2091.8,1666.0 2092.8,1659.8 2093.8,1653.5 2094.8,1647.0 2095.8,1640.4 2096.8,1633.7 2097.8,1626.7 2098.8,1619.7 2099.9,1612.5 2100.9,1605.2 2101.9,1597.8 2102.9,1590.3 2103.9,1582.6 2104.9,1574.8 2105.9,1566.9 2106.9,1559.0 2107.9,1550.9 2108.9,1542.7 2109.9,1534.5 2110.9,1526.2 2111.9,1517.8 2112.9,1509.3 2113.9,1500.8 2114.9,1492.2 2115.9,1483.5 2116.9,1474.8 2118.0,1466.1 2119.0,1457.3 2120.0,1448.5 2121.0,1439.7 2122.0,1430.9 2123.0,1422.0 2124.0,1413.1 2125.0,1404.3 2126.0,1395.4 2127.0,1386.6 2128.0,1377.7 2129.0,1368.9 2130.0,1360.1 2131.0,1351.3 2132.0,1342.6 2133.0,1333.9 2134.0,1325.3 2135.0,1316.7 2136.1,1308.1 2137.1,1299.7 2138.1,1291.3 2139.1,1282.9 2140.1,1274.7 2141.1,1266.5 2142.1,1258.5 2143.1,1250.5 2144.1,1242.6 2145.1,1234.8 2146.1,1227.2 2147.1,1219.6 2148.1,1212.2 2149.1,1204.9 2150.1,1197.7 2151.1,1190.7 2152.1,1183.8 2153.2,1177.0 2154.2,1170.4 2155.2,1163.9 2156.2,1157.6 2157.2,1151.5 2158.2,1145.5 2159.2,1139.7 2160.2,1134.0 2161.2,1128.5 2162.2,1123.2 2163.2,1118.1 2164.2,1113.2 2165.2,1108.4 2166.2,1103.8 2167.2,1099.5 2168.2,1095.3 2169.2,1091.3 2170.2,1087.5 2171.3,1084.0 2172.3,1080.6 2173.3,1077.4 2174.3,1074.5 2175.3,1071.8 2176.3,1069.2 2177.3,1066.9 2178.3,1064.8 2179.3,1062.9 2180.3,1061.3 2181.3,1059.8 2182.3,1058.6 2183.3,1057.6 2184.3,1056.8 2185.3,1056.3 2186.3,1055.9 2187.3,1055.8 2188.3,1055.9 2189.4,1056.3 2190.4,1056.8 2191.4,1057.6 2192.4,1058.6 2193.4,1059.8 2194.4,1061.2 2195.4,1062.8 2196.4,1064.7 2197.4,1066.7 2198.4,1069.0 2199.4,1071.5 2200.4,1074.2 2201.4,1077.1 2202.5,1080.2 2203.5,1083.5 2204.5,1087.1 2205.5,1090.8 2206.5,1094.7 2207.5,1098.8 2208.5,1103.1 2209.5,1107.6 2210.5,1112.3 2211.5,1117.1 2212.5,1122.2 2213.5,1127.4 2214.5,1132.8 2215.5,1138.4 2216.6,1144.1 2217.6,1150.0 2218.6,1156.1 2219.6,1162.3 2220.6,1168.7 2221.6,1175.2 2222.6,1181.9 2223.6,1188.7 2224.6,1195.6 2225.6,1202.7 2226.6,1209.9 2227.6,1217.3 2228.6,1224.7 2229.7,1232.3 2230.7,1239.9 2231.7,1247.7 2232.7,1255.6 2233.7,1263.6 2234.7,1271.6 2235.7,1279.8 2236.7,1288.0 2237.7,1296.3 2238.7,1304.7 2239.7,1313.1 2240.7,1321.6 2241.7,1330.2 2242.7,1338.8 2243.8,1347.4 2244.8,1356.1 2245.8,1364.8 2246.8,1373.6 2247.8,1382.3 2248.8,1391.1 2249.8,1399.9 2250.8,1408.7 2251.8,1417.5 2252.8,1426.3 2253.8,1435.1 2254.8,1443.8 2255.8,1452.6 2256.9,1461.3 2257.9,1470.0 2258.9,1478.6 2259.9,1487.2 2260.9,1495.8 2261.9,1504.3 2262.9,1512.7 2263.9,1521.1 2264.9,1529.4 2265.9,1537.6 2266.9,1545.8 2267.9,1553.8 2268.9,1561.8 2269.9,1569.7 2271.0,1577.5 2272.0,1585.2 2273.0,1592.7 2274.0,1600.2 2275.0,1607.5 2276.0,1614.7 2277.0,1621.8 2278.0,1628.7 2279.0,1635.5 2280.0,1642.2 2281.0,1648.7 2282.0,1655.1 2283.0,1661.3 2284.1,1667.4 2285.1,1673.3 2286.1,1679.0 2287.1,1684.6 2288.1,1690.0 2289.1,1695.2 2290.1,1700.3 2291.1,1705.1 2292.1,1709.8 2293.1,1714.3 2294.1,1718.6 2295.1,1722.7 2296.1,1726.7 2297.1,1730.4 2298.2,1733.9 2299.2,1737.2 2300.2,1740.3 2301.2,1743.2 2302.2,1745.9 2303.2,1748.4 2304.2,1750.7 2305.2,1752.8 2306.2,1754.6 2307.2,1756.2 2308.2,1757.7 2309.2,1758.9 2310.2,1759.8 2311.3,1760.6 2312.3,1761.2 2313.3,1761.5 2314.3,1761.6"/>
</g>
<path d="M1438.99 944.5V1761.6M1561.67 941.4V1761.6M1689.34 943V1761.6M1810.79 944.5V1761.6M2061.64 943V1761.6" stroke="#000" stroke-width="3" stroke-dasharray="16 14.8" fill="none" clip-path="url(#clip-d)"/>
<rect x="1406" y="1022.6" width="361.2" height="124.8" fill="#000"/>
<rect x="1394.5" y="1011.1" width="361.2" height="124.8" fill="#fff" stroke="#333" stroke-width="1.3"/>
<path d="M1400.5 1039.6H1492.2" stroke="#FF8000" stroke-width="5.4" stroke-linecap="round"/>
<path d="M1400.5 1099.4H1492.2" stroke="#8000FF" stroke-width="5.4" stroke-linecap="round"/>
<text transform="translate(1503.3 1053.5) scale(1 1.02)" font-size="41.3">SiO<tspan font-size="27.5" dy="11">2</tspan><tspan dy="-11"> material</tspan></text>
<text transform="translate(1502.8 1113) scale(1 1.02)" font-size="41.3">HfO<tspan font-size="27.5" dy="11">2</tspan><tspan dy="-11"> material</tspan></text>
<text transform="translate(1317.7 1772) scale(1.01 1.03)" font-size="33.2" text-anchor="end">0</text>
<text transform="translate(1317.7 1683.78) scale(1.01 1.03)" font-size="33.2" text-anchor="end">50</text>
<text transform="translate(1317.7 1595.56) scale(1.01 1.03)" font-size="33.2" text-anchor="end">100</text>
<text transform="translate(1317.7 1507.33) scale(1.01 1.03)" font-size="33.2" text-anchor="end">150</text>
<text transform="translate(1317.7 1419.11) scale(1.01 1.03)" font-size="33.2" text-anchor="end">200</text>
<text transform="translate(1317.7 1330.89) scale(1.01 1.03)" font-size="33.2" text-anchor="end">250</text>
<text transform="translate(1317.7 1242.67) scale(1.01 1.03)" font-size="33.2" text-anchor="end">300</text>
<text transform="translate(1317.7 1154.44) scale(1.01 1.03)" font-size="33.2" text-anchor="end">350</text>
<text transform="translate(1317.7 1066.22) scale(1.01 1.03)" font-size="33.2" text-anchor="end">400</text>
<text transform="translate(1317.7 978) scale(1.01 1.03)" font-size="33.2" text-anchor="end">450</text>
<text transform="translate(1396.19 1804.7) scale(1.01 1.03)" font-size="33.2" text-anchor="middle">5600</text>
<text transform="translate(1519.36 1804.7) scale(1.01 1.03)" font-size="33.2" text-anchor="middle">5800</text>
<text transform="translate(1642.54 1804.7) scale(1.01 1.03)" font-size="33.2" text-anchor="middle">6000</text>
<text transform="translate(1765.71 1804.7) scale(1.01 1.03)" font-size="33.2" text-anchor="middle">6200</text>
<text transform="translate(1888.89 1804.7) scale(1.01 1.03)" font-size="33.2" text-anchor="middle">6400</text>
<text transform="translate(2012.06 1804.7) scale(1.01 1.03)" font-size="33.2" text-anchor="middle">6600</text>
<text transform="translate(2135.24 1804.7) scale(1.01 1.03)" font-size="33.2" text-anchor="middle">6800</text>
<text transform="translate(2258.41 1804.7) scale(1.01 1.03)" font-size="33.2" text-anchor="middle">7000</text>
<text transform="translate(1827.3 1867.7) scale(1 1.02)" font-size="41.3" text-anchor="middle">Optical thickness, nm</text>
<text transform="translate(1215.2 1407.9) rotate(-90) scale(1 1.02)" x="0" y="0" font-size="41.3">|E|<tspan font-size="27.5" dy="-16.4">2</tspan><tspan dy="16.4">, %</tspan></text>
<text transform="translate(1351.02 1410.1) scale(1 1.02)" font-size="41.3">28 l.</text>
<text transform="translate(1462.52 1411.4) scale(1 1.02)" font-size="41.3">29 l.</text>
<text transform="translate(1586.13 1411.4) scale(1 1.02)" font-size="41.3">30 l.</text>
<text transform="translate(1708.43 1408.5) scale(1 1.02)" font-size="41.3">31 l.</text>
<text transform="translate(1896.33 1408) scale(1 1.02)" font-size="41.3">32 l.</text>
<text transform="translate(2159.92 1408) scale(1 1.02)" font-size="41.3">Air</text>
<text transform="translate(2329.3 1877.4) scale(0.95 1)" font-size="37.8">d)</text>
</g>
</svg>
</body></html>
